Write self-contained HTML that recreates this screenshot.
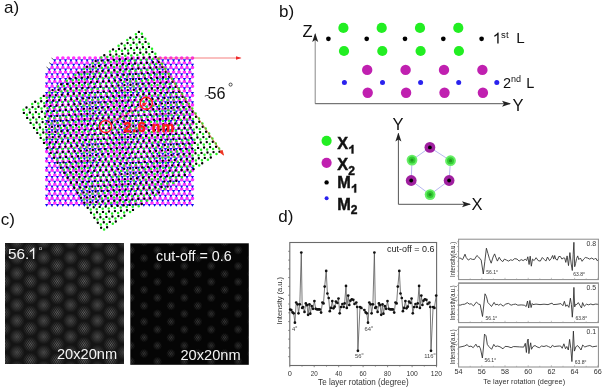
<!DOCTYPE html>
<html><head><meta charset="utf-8"><style>
html,body{margin:0;padding:0;background:#fff;width:602px;height:388px;overflow:hidden}
svg{display:block;will-change:transform}
text{font-family:"Liberation Sans",sans-serif}
</style></head><body>
<svg width="602" height="388" viewBox="0 0 602 388">
<rect width="602" height="388" fill="#fff"/>
<defs>
<marker id="arR" markerWidth="6" markerHeight="6" refX="5" refY="3" orient="auto" markerUnits="userSpaceOnUse"><path d="M0,1.2 L6,3 L0,4.8z" fill="#f02828"/></marker>
<marker id="arO" markerWidth="6" markerHeight="6" refX="5" refY="3" orient="auto" markerUnits="userSpaceOnUse"><path d="M0,0.8 L6,3 L0,5.2z" fill="#ee3322"/></marker>
<marker id="arK" markerWidth="9" markerHeight="7" refX="8" refY="3.5" orient="auto" markerUnits="userSpaceOnUse"><path d="M0,0.5 L9,3.5 L0,6.5 L2,3.5z" fill="#222"/></marker>
<marker id="arS" markerWidth="5" markerHeight="5" refX="4" refY="2.5" orient="auto" markerUnits="userSpaceOnUse"><path d="M0,0.5 L5,2.5 L0,4.5z" fill="#ff2a2a"/></marker>
</defs><filter id="fb" x="0" y="0" width="300" height="260" filterUnits="userSpaceOnUse"><feGaussianBlur stdDeviation="0.4"/></filter><g filter="url(#fb)"><path d="M57.5 58.1h0M62.9 58.1h0M68.3 58.1h0M73.7 58.1h0M79.1 58.1h0M84.5 58.1h0M89.9 58.1h0M95.3 58.1h0M100.7 58.1h0M106.1 58.1h0M111.5 58.1h0M116.9 58.1h0M122.3 58.1h0M127.7 58.1h0M133.1 58.1h0M138.5 58.1h0M143.9 58.1h0M149.3 58.1h0M154.7 58.1h0M160.1 58.1h0M165.5 58.1h0M170.9 58.1h0M176.3 58.1h0M181.7 58.1h0M187.1 58.1h0M192.5 58.1h0M54.8 62.8h0M60.2 62.8h0M65.6 62.8h0M71.0 62.8h0M76.4 62.8h0M81.8 62.8h0M87.2 62.8h0M92.6 62.8h0M98.0 62.8h0M103.4 62.8h0M108.8 62.8h0M114.2 62.8h0M119.6 62.8h0M125.0 62.8h0M130.4 62.8h0M135.8 62.8h0M141.2 62.8h0M146.6 62.8h0M152.0 62.8h0M157.4 62.8h0M162.8 62.8h0M168.2 62.8h0M173.6 62.8h0M179.0 62.8h0M184.4 62.8h0M189.8 62.8h0M52.1 67.5h0M57.5 67.5h0M62.9 67.5h0M68.3 67.5h0M73.7 67.5h0M79.1 67.5h0M84.5 67.5h0M89.9 67.5h0M95.3 67.5h0M100.7 67.5h0M106.1 67.5h0M111.5 67.5h0M116.9 67.5h0M122.3 67.5h0M127.7 67.5h0M133.1 67.5h0M138.5 67.5h0M143.9 67.5h0M149.3 67.5h0M154.7 67.5h0M160.1 67.5h0M165.5 67.5h0M170.9 67.5h0M176.3 67.5h0M181.7 67.5h0M187.1 67.5h0M192.5 67.5h0M49.4 72.1h0M54.8 72.1h0M60.2 72.1h0M65.6 72.1h0M71.0 72.1h0M76.4 72.1h0M81.8 72.1h0M87.2 72.1h0M92.6 72.1h0M98.0 72.1h0M103.4 72.1h0M108.8 72.1h0M114.2 72.1h0M119.6 72.1h0M125.0 72.1h0M130.4 72.1h0M135.8 72.1h0M141.2 72.1h0M146.6 72.1h0M152.0 72.1h0M157.4 72.1h0M162.8 72.1h0M168.2 72.1h0M173.6 72.1h0M179.0 72.1h0M184.4 72.1h0M189.8 72.1h0M46.7 76.8h0M52.1 76.8h0M57.5 76.8h0M62.9 76.8h0M68.3 76.8h0M73.7 76.8h0M79.1 76.8h0M84.5 76.8h0M89.9 76.8h0M95.3 76.8h0M100.7 76.8h0M106.1 76.8h0M111.5 76.8h0M116.9 76.8h0M122.3 76.8h0M127.7 76.8h0M133.1 76.8h0M138.5 76.8h0M143.9 76.8h0M149.3 76.8h0M154.7 76.8h0M160.1 76.8h0M165.5 76.8h0M170.9 76.8h0M176.3 76.8h0M181.7 76.8h0M187.1 76.8h0M192.5 76.8h0M49.4 81.5h0M54.8 81.5h0M60.2 81.5h0M65.6 81.5h0M71.0 81.5h0M76.4 81.5h0M81.8 81.5h0M87.2 81.5h0M92.6 81.5h0M98.0 81.5h0M103.4 81.5h0M108.8 81.5h0M114.2 81.5h0M119.6 81.5h0M125.0 81.5h0M130.4 81.5h0M135.8 81.5h0M141.2 81.5h0M146.6 81.5h0M152.0 81.5h0M157.4 81.5h0M162.8 81.5h0M168.2 81.5h0M173.6 81.5h0M179.0 81.5h0M184.4 81.5h0M189.8 81.5h0M46.7 86.2h0M52.1 86.2h0M57.5 86.2h0M62.9 86.2h0M68.3 86.2h0M73.7 86.2h0M79.1 86.2h0M84.5 86.2h0M89.9 86.2h0M95.3 86.2h0M100.7 86.2h0M106.1 86.2h0M111.5 86.2h0M116.9 86.2h0M122.3 86.2h0M127.7 86.2h0M133.1 86.2h0M138.5 86.2h0M143.9 86.2h0M149.3 86.2h0M154.7 86.2h0M160.1 86.2h0M165.5 86.2h0M170.9 86.2h0M176.3 86.2h0M181.7 86.2h0M187.1 86.2h0M192.5 86.2h0M49.4 90.8h0M54.8 90.8h0M60.2 90.8h0M65.6 90.8h0M71.0 90.8h0M76.4 90.8h0M81.8 90.8h0M87.2 90.8h0M92.6 90.8h0M98.0 90.8h0M103.4 90.8h0M108.8 90.8h0M114.2 90.8h0M119.6 90.8h0M125.0 90.8h0M130.4 90.8h0M135.8 90.8h0M141.2 90.8h0M146.6 90.8h0M152.0 90.8h0M157.4 90.8h0M162.8 90.8h0M168.2 90.8h0M173.6 90.8h0M179.0 90.8h0M184.4 90.8h0M189.8 90.8h0M46.7 95.5h0M52.1 95.5h0M57.5 95.5h0M62.9 95.5h0M68.3 95.5h0M73.7 95.5h0M79.1 95.5h0M84.5 95.5h0M89.9 95.5h0M95.3 95.5h0M100.7 95.5h0M106.1 95.5h0M111.5 95.5h0M116.9 95.5h0M122.3 95.5h0M127.7 95.5h0M133.1 95.5h0M138.5 95.5h0M143.9 95.5h0M149.3 95.5h0M154.7 95.5h0M160.1 95.5h0M165.5 95.5h0M170.9 95.5h0M176.3 95.5h0M181.7 95.5h0M187.1 95.5h0M192.5 95.5h0M49.4 100.2h0M54.8 100.2h0M60.2 100.2h0M65.6 100.2h0M71.0 100.2h0M76.4 100.2h0M81.8 100.2h0M87.2 100.2h0M92.6 100.2h0M98.0 100.2h0M103.4 100.2h0M108.8 100.2h0M114.2 100.2h0M119.6 100.2h0M125.0 100.2h0M130.4 100.2h0M135.8 100.2h0M141.2 100.2h0M146.6 100.2h0M152.0 100.2h0M157.4 100.2h0M162.8 100.2h0M168.2 100.2h0M173.6 100.2h0M179.0 100.2h0M184.4 100.2h0M189.8 100.2h0M46.7 104.9h0M52.1 104.9h0M57.5 104.9h0M62.9 104.9h0M68.3 104.9h0M73.7 104.9h0M79.1 104.9h0M84.5 104.9h0M89.9 104.9h0M95.3 104.9h0M100.7 104.9h0M106.1 104.9h0M111.5 104.9h0M116.9 104.9h0M122.3 104.9h0M127.7 104.9h0M133.1 104.9h0M138.5 104.9h0M143.9 104.9h0M149.3 104.9h0M154.7 104.9h0M160.1 104.9h0M165.5 104.9h0M170.9 104.9h0M176.3 104.9h0M181.7 104.9h0M187.1 104.9h0M192.5 104.9h0M49.4 109.5h0M54.8 109.5h0M60.2 109.5h0M65.6 109.5h0M71.0 109.5h0M76.4 109.5h0M81.8 109.5h0M87.2 109.5h0M92.6 109.5h0M98.0 109.5h0M103.4 109.5h0M108.8 109.5h0M114.2 109.5h0M119.6 109.5h0M125.0 109.5h0M130.4 109.5h0M135.8 109.5h0M141.2 109.5h0M146.6 109.5h0M152.0 109.5h0M157.4 109.5h0M162.8 109.5h0M168.2 109.5h0M173.6 109.5h0M179.0 109.5h0M184.4 109.5h0M189.8 109.5h0M46.7 114.2h0M52.1 114.2h0M57.5 114.2h0M62.9 114.2h0M68.3 114.2h0M73.7 114.2h0M79.1 114.2h0M84.5 114.2h0M89.9 114.2h0M95.3 114.2h0M100.7 114.2h0M106.1 114.2h0M111.5 114.2h0M116.9 114.2h0M122.3 114.2h0M127.7 114.2h0M133.1 114.2h0M138.5 114.2h0M143.9 114.2h0M149.3 114.2h0M154.7 114.2h0M160.1 114.2h0M165.5 114.2h0M170.9 114.2h0M176.3 114.2h0M181.7 114.2h0M187.1 114.2h0M192.5 114.2h0M49.4 118.9h0M54.8 118.9h0M60.2 118.9h0M65.6 118.9h0M71.0 118.9h0M76.4 118.9h0M81.8 118.9h0M87.2 118.9h0M92.6 118.9h0M98.0 118.9h0M103.4 118.9h0M108.8 118.9h0M114.2 118.9h0M119.6 118.9h0M125.0 118.9h0M130.4 118.9h0M135.8 118.9h0M141.2 118.9h0M146.6 118.9h0M152.0 118.9h0M157.4 118.9h0M162.8 118.9h0M168.2 118.9h0M173.6 118.9h0M179.0 118.9h0M184.4 118.9h0M189.8 118.9h0M46.7 123.6h0M52.1 123.6h0M57.5 123.6h0M62.9 123.6h0M68.3 123.6h0M73.7 123.6h0M79.1 123.6h0M84.5 123.6h0M89.9 123.6h0M95.3 123.6h0M100.7 123.6h0M106.1 123.6h0M111.5 123.6h0M116.9 123.6h0M122.3 123.6h0M127.7 123.6h0M133.1 123.6h0M138.5 123.6h0M143.9 123.6h0M149.3 123.6h0M154.7 123.6h0M160.1 123.6h0M165.5 123.6h0M170.9 123.6h0M176.3 123.6h0M181.7 123.6h0M187.1 123.6h0M192.5 123.6h0M49.4 128.2h0M54.8 128.2h0M60.2 128.2h0M65.6 128.2h0M71.0 128.2h0M76.4 128.2h0M81.8 128.2h0M87.2 128.2h0M92.6 128.2h0M98.0 128.2h0M103.4 128.2h0M108.8 128.2h0M114.2 128.2h0M119.6 128.2h0M125.0 128.2h0M130.4 128.2h0M135.8 128.2h0M141.2 128.2h0M146.6 128.2h0M152.0 128.2h0M157.4 128.2h0M162.8 128.2h0M168.2 128.2h0M173.6 128.2h0M179.0 128.2h0M184.4 128.2h0M189.8 128.2h0M46.7 132.9h0M52.1 132.9h0M57.5 132.9h0M62.9 132.9h0M68.3 132.9h0M73.7 132.9h0M79.1 132.9h0M84.5 132.9h0M89.9 132.9h0M95.3 132.9h0M100.7 132.9h0M106.1 132.9h0M111.5 132.9h0M116.9 132.9h0M122.3 132.9h0M127.7 132.9h0M133.1 132.9h0M138.5 132.9h0M143.9 132.9h0M149.3 132.9h0M154.7 132.9h0M160.1 132.9h0M165.5 132.9h0M170.9 132.9h0M176.3 132.9h0M181.7 132.9h0M187.1 132.9h0M192.5 132.9h0M49.4 137.6h0M54.8 137.6h0M60.2 137.6h0M65.6 137.6h0M71.0 137.6h0M76.4 137.6h0M81.8 137.6h0M87.2 137.6h0M92.6 137.6h0M98.0 137.6h0M103.4 137.6h0M108.8 137.6h0M114.2 137.6h0M119.6 137.6h0M125.0 137.6h0M130.4 137.6h0M135.8 137.6h0M141.2 137.6h0M146.6 137.6h0M152.0 137.6h0M157.4 137.6h0M162.8 137.6h0M168.2 137.6h0M173.6 137.6h0M179.0 137.6h0M184.4 137.6h0M189.8 137.6h0M46.7 142.3h0M52.1 142.3h0M57.5 142.3h0M62.9 142.3h0M68.3 142.3h0M73.7 142.3h0M79.1 142.3h0M84.5 142.3h0M89.9 142.3h0M95.3 142.3h0M100.7 142.3h0M106.1 142.3h0M111.5 142.3h0M116.9 142.3h0M122.3 142.3h0M127.7 142.3h0M133.1 142.3h0M138.5 142.3h0M143.9 142.3h0M149.3 142.3h0M154.7 142.3h0M160.1 142.3h0M165.5 142.3h0M170.9 142.3h0M176.3 142.3h0M181.7 142.3h0M187.1 142.3h0M192.5 142.3h0M49.4 147.0h0M54.8 147.0h0M60.2 147.0h0M65.6 147.0h0M71.0 147.0h0M76.4 147.0h0M81.8 147.0h0M87.2 147.0h0M92.6 147.0h0M98.0 147.0h0M103.4 147.0h0M108.8 147.0h0M114.2 147.0h0M119.6 147.0h0M125.0 147.0h0M130.4 147.0h0M135.8 147.0h0M141.2 147.0h0M146.6 147.0h0M152.0 147.0h0M157.4 147.0h0M162.8 147.0h0M168.2 147.0h0M173.6 147.0h0M179.0 147.0h0M184.4 147.0h0M189.8 147.0h0M46.7 151.6h0M52.1 151.6h0M57.5 151.6h0M62.9 151.6h0M68.3 151.6h0M73.7 151.6h0M79.1 151.6h0M84.5 151.6h0M89.9 151.6h0M95.3 151.6h0M100.7 151.6h0M106.1 151.6h0M111.5 151.6h0M116.9 151.6h0M122.3 151.6h0M127.7 151.6h0M133.1 151.6h0M138.5 151.6h0M143.9 151.6h0M149.3 151.6h0M154.7 151.6h0M160.1 151.6h0M165.5 151.6h0M170.9 151.6h0M176.3 151.6h0M181.7 151.6h0M187.1 151.6h0M192.5 151.6h0M49.4 156.3h0M54.8 156.3h0M60.2 156.3h0M65.6 156.3h0M71.0 156.3h0M76.4 156.3h0M81.8 156.3h0M87.2 156.3h0M92.6 156.3h0M98.0 156.3h0M103.4 156.3h0M108.8 156.3h0M114.2 156.3h0M119.6 156.3h0M125.0 156.3h0M130.4 156.3h0M135.8 156.3h0M141.2 156.3h0M146.6 156.3h0M152.0 156.3h0M157.4 156.3h0M162.8 156.3h0M168.2 156.3h0M173.6 156.3h0M179.0 156.3h0M184.4 156.3h0M189.8 156.3h0M46.7 161.0h0M52.1 161.0h0M57.5 161.0h0M62.9 161.0h0M68.3 161.0h0M73.7 161.0h0M79.1 161.0h0M84.5 161.0h0M89.9 161.0h0M95.3 161.0h0M100.7 161.0h0M106.1 161.0h0M111.5 161.0h0M116.9 161.0h0M122.3 161.0h0M127.7 161.0h0M133.1 161.0h0M138.5 161.0h0M143.9 161.0h0M149.3 161.0h0M154.7 161.0h0M160.1 161.0h0M165.5 161.0h0M170.9 161.0h0M176.3 161.0h0M181.7 161.0h0M187.1 161.0h0M192.5 161.0h0M49.4 165.7h0M54.8 165.7h0M60.2 165.7h0M65.6 165.7h0M71.0 165.7h0M76.4 165.7h0M81.8 165.7h0M87.2 165.7h0M92.6 165.7h0M98.0 165.7h0M103.4 165.7h0M108.8 165.7h0M114.2 165.7h0M119.6 165.7h0M125.0 165.7h0M130.4 165.7h0M135.8 165.7h0M141.2 165.7h0M146.6 165.7h0M152.0 165.7h0M157.4 165.7h0M162.8 165.7h0M168.2 165.7h0M173.6 165.7h0M179.0 165.7h0M184.4 165.7h0M189.8 165.7h0M46.7 170.3h0M52.1 170.3h0M57.5 170.3h0M62.9 170.3h0M68.3 170.3h0M73.7 170.3h0M79.1 170.3h0M84.5 170.3h0M89.9 170.3h0M95.3 170.3h0M100.7 170.3h0M106.1 170.3h0M111.5 170.3h0M116.9 170.3h0M122.3 170.3h0M127.7 170.3h0M133.1 170.3h0M138.5 170.3h0M143.9 170.3h0M149.3 170.3h0M154.7 170.3h0M160.1 170.3h0M165.5 170.3h0M170.9 170.3h0M176.3 170.3h0M181.7 170.3h0M187.1 170.3h0M192.5 170.3h0M49.4 175.0h0M54.8 175.0h0M60.2 175.0h0M65.6 175.0h0M71.0 175.0h0M76.4 175.0h0M81.8 175.0h0M87.2 175.0h0M92.6 175.0h0M98.0 175.0h0M103.4 175.0h0M108.8 175.0h0M114.2 175.0h0M119.6 175.0h0M125.0 175.0h0M130.4 175.0h0M135.8 175.0h0M141.2 175.0h0M146.6 175.0h0M152.0 175.0h0M157.4 175.0h0M162.8 175.0h0M168.2 175.0h0M173.6 175.0h0M179.0 175.0h0M184.4 175.0h0M189.8 175.0h0M46.7 179.7h0M52.1 179.7h0M57.5 179.7h0M62.9 179.7h0M68.3 179.7h0M73.7 179.7h0M79.1 179.7h0M84.5 179.7h0M89.9 179.7h0M95.3 179.7h0M100.7 179.7h0M106.1 179.7h0M111.5 179.7h0M116.9 179.7h0M122.3 179.7h0M127.7 179.7h0M133.1 179.7h0M138.5 179.7h0M143.9 179.7h0M149.3 179.7h0M154.7 179.7h0M160.1 179.7h0M165.5 179.7h0M170.9 179.7h0M176.3 179.7h0M181.7 179.7h0M187.1 179.7h0M192.5 179.7h0M49.4 184.4h0M54.8 184.4h0M60.2 184.4h0M65.6 184.4h0M71.0 184.4h0M76.4 184.4h0M81.8 184.4h0M87.2 184.4h0M92.6 184.4h0M98.0 184.4h0M103.4 184.4h0M108.8 184.4h0M114.2 184.4h0M119.6 184.4h0M125.0 184.4h0M130.4 184.4h0M135.8 184.4h0M141.2 184.4h0M146.6 184.4h0M152.0 184.4h0M157.4 184.4h0M162.8 184.4h0M168.2 184.4h0M173.6 184.4h0M179.0 184.4h0M184.4 184.4h0M189.8 184.4h0M46.7 189.0h0M52.1 189.0h0M57.5 189.0h0M62.9 189.0h0M68.3 189.0h0M73.7 189.0h0M79.1 189.0h0M84.5 189.0h0M89.9 189.0h0M95.3 189.0h0M100.7 189.0h0M106.1 189.0h0M111.5 189.0h0M116.9 189.0h0M122.3 189.0h0M127.7 189.0h0M133.1 189.0h0M138.5 189.0h0M143.9 189.0h0M149.3 189.0h0M154.7 189.0h0M160.1 189.0h0M165.5 189.0h0M170.9 189.0h0M176.3 189.0h0M181.7 189.0h0M187.1 189.0h0M192.5 189.0h0M49.4 193.7h0M54.8 193.7h0M60.2 193.7h0M65.6 193.7h0M71.0 193.7h0M76.4 193.7h0M81.8 193.7h0M87.2 193.7h0M92.6 193.7h0M98.0 193.7h0M103.4 193.7h0M108.8 193.7h0M114.2 193.7h0M119.6 193.7h0M125.0 193.7h0M130.4 193.7h0M135.8 193.7h0M141.2 193.7h0M146.6 193.7h0M152.0 193.7h0M157.4 193.7h0M162.8 193.7h0M168.2 193.7h0M173.6 193.7h0M179.0 193.7h0M184.4 193.7h0M189.8 193.7h0M46.7 198.4h0M52.1 198.4h0M57.5 198.4h0M62.9 198.4h0M68.3 198.4h0M73.7 198.4h0M79.1 198.4h0M84.5 198.4h0M89.9 198.4h0M95.3 198.4h0M100.7 198.4h0M106.1 198.4h0M111.5 198.4h0M116.9 198.4h0M122.3 198.4h0M127.7 198.4h0M133.1 198.4h0M138.5 198.4h0M143.9 198.4h0M149.3 198.4h0M154.7 198.4h0M160.1 198.4h0M165.5 198.4h0M170.9 198.4h0M176.3 198.4h0M181.7 198.4h0M187.1 198.4h0M192.5 198.4h0M49.4 203.1h0M54.8 203.1h0M60.2 203.1h0M65.6 203.1h0M71.0 203.1h0M76.4 203.1h0M81.8 203.1h0M87.2 203.1h0M92.6 203.1h0M98.0 203.1h0M103.4 203.1h0M108.8 203.1h0M114.2 203.1h0M119.6 203.1h0M125.0 203.1h0M130.4 203.1h0M135.8 203.1h0M141.2 203.1h0M146.6 203.1h0M152.0 203.1h0M157.4 203.1h0M162.8 203.1h0M168.2 203.1h0M173.6 203.1h0M179.0 203.1h0M184.4 203.1h0M189.8 203.1h0" stroke="#ff30ff" stroke-width="3.60" stroke-linecap="round" fill="none"/><path d="M53.1 59.2h3.30l-1.65 2.75zM58.5 59.2h3.30l-1.65 2.75zM63.9 59.2h3.30l-1.65 2.75zM69.3 59.2h3.30l-1.65 2.75zM74.7 59.2h3.30l-1.65 2.75zM80.1 59.2h3.30l-1.65 2.75zM85.5 59.2h3.30l-1.65 2.75zM90.9 59.2h3.30l-1.65 2.75zM96.3 59.2h3.30l-1.65 2.75zM101.7 59.2h3.30l-1.65 2.75zM107.1 59.2h3.30l-1.65 2.75zM112.5 59.2h3.30l-1.65 2.75zM117.9 59.2h3.30l-1.65 2.75zM123.3 59.2h3.30l-1.65 2.75zM128.7 59.2h3.30l-1.65 2.75zM134.2 59.2h3.30l-1.65 2.75zM139.5 59.2h3.30l-1.65 2.75zM144.9 59.2h3.30l-1.65 2.75zM150.3 59.2h3.30l-1.65 2.75zM155.8 59.2h3.30l-1.65 2.75zM161.1 59.2h3.30l-1.65 2.75zM166.5 59.2h3.30l-1.65 2.75zM171.9 59.2h3.30l-1.65 2.75zM177.3 59.2h3.30l-1.65 2.75zM182.8 59.2h3.30l-1.65 2.75zM188.2 59.2h3.30l-1.65 2.75zM50.4 63.8h3.30l-1.65 2.75zM55.8 63.8h3.30l-1.65 2.75zM61.2 63.8h3.30l-1.65 2.75zM66.6 63.8h3.30l-1.65 2.75zM72.0 63.8h3.30l-1.65 2.75zM77.4 63.8h3.30l-1.65 2.75zM82.8 63.8h3.30l-1.65 2.75zM88.2 63.8h3.30l-1.65 2.75zM93.6 63.8h3.30l-1.65 2.75zM99.0 63.8h3.30l-1.65 2.75zM104.4 63.8h3.30l-1.65 2.75zM109.8 63.8h3.30l-1.65 2.75zM115.2 63.8h3.30l-1.65 2.75zM120.6 63.8h3.30l-1.65 2.75zM126.0 63.8h3.30l-1.65 2.75zM131.4 63.8h3.30l-1.65 2.75zM136.8 63.8h3.30l-1.65 2.75zM142.2 63.8h3.30l-1.65 2.75zM147.7 63.8h3.30l-1.65 2.75zM153.0 63.8h3.30l-1.65 2.75zM158.4 63.8h3.30l-1.65 2.75zM163.8 63.8h3.30l-1.65 2.75zM169.2 63.8h3.30l-1.65 2.75zM174.7 63.8h3.30l-1.65 2.75zM180.0 63.8h3.30l-1.65 2.75zM185.4 63.8h3.30l-1.65 2.75zM190.8 63.8h3.30l-1.65 2.75zM47.7 68.5h3.30l-1.65 2.75zM53.1 68.5h3.30l-1.65 2.75zM58.5 68.5h3.30l-1.65 2.75zM64.0 68.5h3.30l-1.65 2.75zM69.3 68.5h3.30l-1.65 2.75zM74.8 68.5h3.30l-1.65 2.75zM80.1 68.5h3.30l-1.65 2.75zM85.5 68.5h3.30l-1.65 2.75zM91.0 68.5h3.30l-1.65 2.75zM96.3 68.5h3.30l-1.65 2.75zM101.8 68.5h3.30l-1.65 2.75zM107.1 68.5h3.30l-1.65 2.75zM112.5 68.5h3.30l-1.65 2.75zM118.0 68.5h3.30l-1.65 2.75zM123.3 68.5h3.30l-1.65 2.75zM128.8 68.5h3.30l-1.65 2.75zM134.1 68.5h3.30l-1.65 2.75zM139.5 68.5h3.30l-1.65 2.75zM144.9 68.5h3.30l-1.65 2.75zM150.3 68.5h3.30l-1.65 2.75zM155.8 68.5h3.30l-1.65 2.75zM161.1 68.5h3.30l-1.65 2.75zM166.5 68.5h3.30l-1.65 2.75zM171.9 68.5h3.30l-1.65 2.75zM177.3 68.5h3.30l-1.65 2.75zM182.8 68.5h3.30l-1.65 2.75zM188.2 68.5h3.30l-1.65 2.75zM45.0 73.2h3.30l-1.65 2.75zM50.4 73.2h3.30l-1.65 2.75zM55.8 73.2h3.30l-1.65 2.75zM61.2 73.2h3.30l-1.65 2.75zM66.6 73.2h3.30l-1.65 2.75zM72.0 73.2h3.30l-1.65 2.75zM77.5 73.2h3.30l-1.65 2.75zM82.8 73.2h3.30l-1.65 2.75zM88.2 73.2h3.30l-1.65 2.75zM93.6 73.2h3.30l-1.65 2.75zM99.0 73.2h3.30l-1.65 2.75zM104.5 73.2h3.30l-1.65 2.75zM109.8 73.2h3.30l-1.65 2.75zM115.2 73.2h3.30l-1.65 2.75zM120.6 73.2h3.30l-1.65 2.75zM126.0 73.2h3.30l-1.65 2.75zM131.4 73.2h3.30l-1.65 2.75zM136.8 73.2h3.30l-1.65 2.75zM142.2 73.2h3.30l-1.65 2.75zM147.7 73.2h3.30l-1.65 2.75zM153.0 73.2h3.30l-1.65 2.75zM158.4 73.2h3.30l-1.65 2.75zM163.8 73.2h3.30l-1.65 2.75zM169.2 73.2h3.30l-1.65 2.75zM174.7 73.2h3.30l-1.65 2.75zM180.0 73.2h3.30l-1.65 2.75zM185.4 73.2h3.30l-1.65 2.75zM190.8 73.2h3.30l-1.65 2.75zM47.7 77.9h3.30l-1.65 2.75zM53.1 77.9h3.30l-1.65 2.75zM58.5 77.9h3.30l-1.65 2.75zM64.0 77.9h3.30l-1.65 2.75zM69.3 77.9h3.30l-1.65 2.75zM74.7 77.9h3.30l-1.65 2.75zM80.1 77.9h3.30l-1.65 2.75zM85.5 77.9h3.30l-1.65 2.75zM90.9 77.9h3.30l-1.65 2.75zM96.3 77.9h3.30l-1.65 2.75zM101.7 77.9h3.30l-1.65 2.75zM107.1 77.9h3.30l-1.65 2.75zM112.5 77.9h3.30l-1.65 2.75zM117.9 77.9h3.30l-1.65 2.75zM123.3 77.9h3.30l-1.65 2.75zM128.7 77.9h3.30l-1.65 2.75zM134.2 77.9h3.30l-1.65 2.75zM139.5 77.9h3.30l-1.65 2.75zM144.9 77.9h3.30l-1.65 2.75zM150.3 77.9h3.30l-1.65 2.75zM155.8 77.9h3.30l-1.65 2.75zM161.1 77.9h3.30l-1.65 2.75zM166.5 77.9h3.30l-1.65 2.75zM171.9 77.9h3.30l-1.65 2.75zM177.3 77.9h3.30l-1.65 2.75zM182.8 77.9h3.30l-1.65 2.75zM188.2 77.9h3.30l-1.65 2.75zM45.0 82.5h3.30l-1.65 2.75zM50.4 82.5h3.30l-1.65 2.75zM55.8 82.5h3.30l-1.65 2.75zM61.2 82.5h3.30l-1.65 2.75zM66.6 82.5h3.30l-1.65 2.75zM72.0 82.5h3.30l-1.65 2.75zM77.4 82.5h3.30l-1.65 2.75zM82.8 82.5h3.30l-1.65 2.75zM88.2 82.5h3.30l-1.65 2.75zM93.6 82.5h3.30l-1.65 2.75zM99.0 82.5h3.30l-1.65 2.75zM104.4 82.5h3.30l-1.65 2.75zM109.8 82.5h3.30l-1.65 2.75zM115.2 82.5h3.30l-1.65 2.75zM120.6 82.5h3.30l-1.65 2.75zM126.0 82.5h3.30l-1.65 2.75zM131.4 82.5h3.30l-1.65 2.75zM136.8 82.5h3.30l-1.65 2.75zM142.2 82.5h3.30l-1.65 2.75zM147.7 82.5h3.30l-1.65 2.75zM153.0 82.5h3.30l-1.65 2.75zM158.4 82.5h3.30l-1.65 2.75zM163.8 82.5h3.30l-1.65 2.75zM169.2 82.5h3.30l-1.65 2.75zM174.6 82.5h3.30l-1.65 2.75zM180.0 82.5h3.30l-1.65 2.75zM185.4 82.5h3.30l-1.65 2.75zM190.8 82.5h3.30l-1.65 2.75zM47.7 87.2h3.30l-1.65 2.75zM53.1 87.2h3.30l-1.65 2.75zM58.5 87.2h3.30l-1.65 2.75zM63.9 87.2h3.30l-1.65 2.75zM69.3 87.2h3.30l-1.65 2.75zM74.8 87.2h3.30l-1.65 2.75zM80.1 87.2h3.30l-1.65 2.75zM85.5 87.2h3.30l-1.65 2.75zM90.9 87.2h3.30l-1.65 2.75zM96.3 87.2h3.30l-1.65 2.75zM101.8 87.2h3.30l-1.65 2.75zM107.1 87.2h3.30l-1.65 2.75zM112.5 87.2h3.30l-1.65 2.75zM117.9 87.2h3.30l-1.65 2.75zM123.3 87.2h3.30l-1.65 2.75zM128.8 87.2h3.30l-1.65 2.75zM134.2 87.2h3.30l-1.65 2.75zM139.5 87.2h3.30l-1.65 2.75zM144.9 87.2h3.30l-1.65 2.75zM150.3 87.2h3.30l-1.65 2.75zM155.8 87.2h3.30l-1.65 2.75zM161.2 87.2h3.30l-1.65 2.75zM166.5 87.2h3.30l-1.65 2.75zM171.9 87.2h3.30l-1.65 2.75zM177.3 87.2h3.30l-1.65 2.75zM182.8 87.2h3.30l-1.65 2.75zM188.2 87.2h3.30l-1.65 2.75zM45.0 91.9h3.30l-1.65 2.75zM50.4 91.9h3.30l-1.65 2.75zM55.8 91.9h3.30l-1.65 2.75zM61.2 91.9h3.30l-1.65 2.75zM66.6 91.9h3.30l-1.65 2.75zM72.0 91.9h3.30l-1.65 2.75zM77.5 91.9h3.30l-1.65 2.75zM82.8 91.9h3.30l-1.65 2.75zM88.2 91.9h3.30l-1.65 2.75zM93.6 91.9h3.30l-1.65 2.75zM99.0 91.9h3.30l-1.65 2.75zM104.5 91.9h3.30l-1.65 2.75zM109.8 91.9h3.30l-1.65 2.75zM115.2 91.9h3.30l-1.65 2.75zM120.6 91.9h3.30l-1.65 2.75zM126.0 91.9h3.30l-1.65 2.75zM131.5 91.9h3.30l-1.65 2.75zM136.8 91.9h3.30l-1.65 2.75zM142.2 91.9h3.30l-1.65 2.75zM147.7 91.9h3.30l-1.65 2.75zM153.0 91.9h3.30l-1.65 2.75zM158.5 91.9h3.30l-1.65 2.75zM163.8 91.9h3.30l-1.65 2.75zM169.2 91.9h3.30l-1.65 2.75zM174.7 91.9h3.30l-1.65 2.75zM180.0 91.9h3.30l-1.65 2.75zM185.4 91.9h3.30l-1.65 2.75zM190.8 91.9h3.30l-1.65 2.75zM47.7 96.6h3.30l-1.65 2.75zM53.1 96.6h3.30l-1.65 2.75zM58.5 96.6h3.30l-1.65 2.75zM63.9 96.6h3.30l-1.65 2.75zM69.3 96.6h3.30l-1.65 2.75zM74.7 96.6h3.30l-1.65 2.75zM80.1 96.6h3.30l-1.65 2.75zM85.5 96.6h3.30l-1.65 2.75zM91.0 96.6h3.30l-1.65 2.75zM96.3 96.6h3.30l-1.65 2.75zM101.7 96.6h3.30l-1.65 2.75zM107.1 96.6h3.30l-1.65 2.75zM112.5 96.6h3.30l-1.65 2.75zM118.0 96.6h3.30l-1.65 2.75zM123.3 96.6h3.30l-1.65 2.75zM128.7 96.6h3.30l-1.65 2.75zM134.2 96.6h3.30l-1.65 2.75zM139.5 96.6h3.30l-1.65 2.75zM144.9 96.6h3.30l-1.65 2.75zM150.3 96.6h3.30l-1.65 2.75zM155.8 96.6h3.30l-1.65 2.75zM161.2 96.6h3.30l-1.65 2.75zM166.5 96.6h3.30l-1.65 2.75zM171.9 96.6h3.30l-1.65 2.75zM177.3 96.6h3.30l-1.65 2.75zM182.8 96.6h3.30l-1.65 2.75zM188.2 96.6h3.30l-1.65 2.75zM45.0 101.2h3.30l-1.65 2.75zM50.4 101.2h3.30l-1.65 2.75zM55.9 101.2h3.30l-1.65 2.75zM61.2 101.2h3.30l-1.65 2.75zM66.6 101.2h3.30l-1.65 2.75zM72.0 101.2h3.30l-1.65 2.75zM77.4 101.2h3.30l-1.65 2.75zM82.8 101.2h3.30l-1.65 2.75zM88.2 101.2h3.30l-1.65 2.75zM93.6 101.2h3.30l-1.65 2.75zM99.0 101.2h3.30l-1.65 2.75zM104.4 101.2h3.30l-1.65 2.75zM109.8 101.2h3.30l-1.65 2.75zM115.2 101.2h3.30l-1.65 2.75zM120.6 101.2h3.30l-1.65 2.75zM126.0 101.2h3.30l-1.65 2.75zM131.4 101.2h3.30l-1.65 2.75zM136.8 101.2h3.30l-1.65 2.75zM142.2 101.2h3.30l-1.65 2.75zM147.7 101.2h3.30l-1.65 2.75zM153.0 101.2h3.30l-1.65 2.75zM158.4 101.2h3.30l-1.65 2.75zM163.8 101.2h3.30l-1.65 2.75zM169.2 101.2h3.30l-1.65 2.75zM174.7 101.2h3.30l-1.65 2.75zM180.0 101.2h3.30l-1.65 2.75zM185.4 101.2h3.30l-1.65 2.75zM190.8 101.2h3.30l-1.65 2.75zM47.7 105.9h3.30l-1.65 2.75zM53.1 105.9h3.30l-1.65 2.75zM58.5 105.9h3.30l-1.65 2.75zM63.9 105.9h3.30l-1.65 2.75zM69.3 105.9h3.30l-1.65 2.75zM74.7 105.9h3.30l-1.65 2.75zM80.1 105.9h3.30l-1.65 2.75zM85.5 105.9h3.30l-1.65 2.75zM90.9 105.9h3.30l-1.65 2.75zM96.3 105.9h3.30l-1.65 2.75zM101.7 105.9h3.30l-1.65 2.75zM107.1 105.9h3.30l-1.65 2.75zM112.5 105.9h3.30l-1.65 2.75zM117.9 105.9h3.30l-1.65 2.75zM123.3 105.9h3.30l-1.65 2.75zM128.7 105.9h3.30l-1.65 2.75zM134.2 105.9h3.30l-1.65 2.75zM139.5 105.9h3.30l-1.65 2.75zM144.9 105.9h3.30l-1.65 2.75zM150.3 105.9h3.30l-1.65 2.75zM155.7 105.9h3.30l-1.65 2.75zM161.1 105.9h3.30l-1.65 2.75zM166.5 105.9h3.30l-1.65 2.75zM171.9 105.9h3.30l-1.65 2.75zM177.3 105.9h3.30l-1.65 2.75zM182.8 105.9h3.30l-1.65 2.75zM188.1 105.9h3.30l-1.65 2.75zM45.0 110.6h3.30l-1.65 2.75zM50.4 110.6h3.30l-1.65 2.75zM55.9 110.6h3.30l-1.65 2.75zM61.2 110.6h3.30l-1.65 2.75zM66.6 110.6h3.30l-1.65 2.75zM72.0 110.6h3.30l-1.65 2.75zM77.4 110.6h3.30l-1.65 2.75zM82.8 110.6h3.30l-1.65 2.75zM88.2 110.6h3.30l-1.65 2.75zM93.6 110.6h3.30l-1.65 2.75zM99.0 110.6h3.30l-1.65 2.75zM104.4 110.6h3.30l-1.65 2.75zM109.8 110.6h3.30l-1.65 2.75zM115.2 110.6h3.30l-1.65 2.75zM120.6 110.6h3.30l-1.65 2.75zM126.0 110.6h3.30l-1.65 2.75zM131.4 110.6h3.30l-1.65 2.75zM136.8 110.6h3.30l-1.65 2.75zM142.2 110.6h3.30l-1.65 2.75zM147.7 110.6h3.30l-1.65 2.75zM153.0 110.6h3.30l-1.65 2.75zM158.4 110.6h3.30l-1.65 2.75zM163.8 110.6h3.30l-1.65 2.75zM169.2 110.6h3.30l-1.65 2.75zM174.7 110.6h3.30l-1.65 2.75zM180.0 110.6h3.30l-1.65 2.75zM185.4 110.6h3.30l-1.65 2.75zM190.8 110.6h3.30l-1.65 2.75zM47.7 115.3h3.30l-1.65 2.75zM53.1 115.3h3.30l-1.65 2.75zM58.5 115.3h3.30l-1.65 2.75zM64.0 115.3h3.30l-1.65 2.75zM69.3 115.3h3.30l-1.65 2.75zM74.7 115.3h3.30l-1.65 2.75zM80.1 115.3h3.30l-1.65 2.75zM85.5 115.3h3.30l-1.65 2.75zM91.0 115.3h3.30l-1.65 2.75zM96.3 115.3h3.30l-1.65 2.75zM101.8 115.3h3.30l-1.65 2.75zM107.1 115.3h3.30l-1.65 2.75zM112.5 115.3h3.30l-1.65 2.75zM118.0 115.3h3.30l-1.65 2.75zM123.3 115.3h3.30l-1.65 2.75zM128.8 115.3h3.30l-1.65 2.75zM134.2 115.3h3.30l-1.65 2.75zM139.5 115.3h3.30l-1.65 2.75zM145.0 115.3h3.30l-1.65 2.75zM150.3 115.3h3.30l-1.65 2.75zM155.8 115.3h3.30l-1.65 2.75zM161.1 115.3h3.30l-1.65 2.75zM166.5 115.3h3.30l-1.65 2.75zM171.9 115.3h3.30l-1.65 2.75zM177.3 115.3h3.30l-1.65 2.75zM182.8 115.3h3.30l-1.65 2.75zM188.2 115.3h3.30l-1.65 2.75zM45.0 119.9h3.30l-1.65 2.75zM50.4 119.9h3.30l-1.65 2.75zM55.8 119.9h3.30l-1.65 2.75zM61.2 119.9h3.30l-1.65 2.75zM66.6 119.9h3.30l-1.65 2.75zM72.0 119.9h3.30l-1.65 2.75zM77.4 119.9h3.30l-1.65 2.75zM82.8 119.9h3.30l-1.65 2.75zM88.2 119.9h3.30l-1.65 2.75zM93.6 119.9h3.30l-1.65 2.75zM99.0 119.9h3.30l-1.65 2.75zM104.5 119.9h3.30l-1.65 2.75zM109.8 119.9h3.30l-1.65 2.75zM115.2 119.9h3.30l-1.65 2.75zM120.6 119.9h3.30l-1.65 2.75zM126.0 119.9h3.30l-1.65 2.75zM131.4 119.9h3.30l-1.65 2.75zM136.8 119.9h3.30l-1.65 2.75zM142.2 119.9h3.30l-1.65 2.75zM147.7 119.9h3.30l-1.65 2.75zM153.0 119.9h3.30l-1.65 2.75zM158.4 119.9h3.30l-1.65 2.75zM163.8 119.9h3.30l-1.65 2.75zM169.2 119.9h3.30l-1.65 2.75zM174.7 119.9h3.30l-1.65 2.75zM180.0 119.9h3.30l-1.65 2.75zM185.4 119.9h3.30l-1.65 2.75zM190.8 119.9h3.30l-1.65 2.75zM47.7 124.6h3.30l-1.65 2.75zM53.1 124.6h3.30l-1.65 2.75zM58.5 124.6h3.30l-1.65 2.75zM64.0 124.6h3.30l-1.65 2.75zM69.4 124.6h3.30l-1.65 2.75zM74.7 124.6h3.30l-1.65 2.75zM80.1 124.6h3.30l-1.65 2.75zM85.5 124.6h3.30l-1.65 2.75zM91.0 124.6h3.30l-1.65 2.75zM96.4 124.6h3.30l-1.65 2.75zM101.7 124.6h3.30l-1.65 2.75zM107.1 124.6h3.30l-1.65 2.75zM112.5 124.6h3.30l-1.65 2.75zM118.0 124.6h3.30l-1.65 2.75zM123.4 124.6h3.30l-1.65 2.75zM128.7 124.6h3.30l-1.65 2.75zM134.2 124.6h3.30l-1.65 2.75zM139.5 124.6h3.30l-1.65 2.75zM144.9 124.6h3.30l-1.65 2.75zM150.3 124.6h3.30l-1.65 2.75zM155.8 124.6h3.30l-1.65 2.75zM161.2 124.6h3.30l-1.65 2.75zM166.5 124.6h3.30l-1.65 2.75zM171.9 124.6h3.30l-1.65 2.75zM177.3 124.6h3.30l-1.65 2.75zM182.8 124.6h3.30l-1.65 2.75zM188.2 124.6h3.30l-1.65 2.75zM45.0 129.3h3.30l-1.65 2.75zM50.4 129.3h3.30l-1.65 2.75zM55.8 129.3h3.30l-1.65 2.75zM61.2 129.3h3.30l-1.65 2.75zM66.6 129.3h3.30l-1.65 2.75zM72.0 129.3h3.30l-1.65 2.75zM77.4 129.3h3.30l-1.65 2.75zM82.8 129.3h3.30l-1.65 2.75zM88.2 129.3h3.30l-1.65 2.75zM93.6 129.3h3.30l-1.65 2.75zM99.0 129.3h3.30l-1.65 2.75zM104.4 129.3h3.30l-1.65 2.75zM109.8 129.3h3.30l-1.65 2.75zM115.2 129.3h3.30l-1.65 2.75zM120.6 129.3h3.30l-1.65 2.75zM126.0 129.3h3.30l-1.65 2.75zM131.4 129.3h3.30l-1.65 2.75zM136.8 129.3h3.30l-1.65 2.75zM142.2 129.3h3.30l-1.65 2.75zM147.7 129.3h3.30l-1.65 2.75zM153.0 129.3h3.30l-1.65 2.75zM158.4 129.3h3.30l-1.65 2.75zM163.8 129.3h3.30l-1.65 2.75zM169.2 129.3h3.30l-1.65 2.75zM174.6 129.3h3.30l-1.65 2.75zM180.0 129.3h3.30l-1.65 2.75zM185.4 129.3h3.30l-1.65 2.75zM190.8 129.3h3.30l-1.65 2.75zM47.7 134.0h3.30l-1.65 2.75zM53.1 134.0h3.30l-1.65 2.75zM58.5 134.0h3.30l-1.65 2.75zM63.9 134.0h3.30l-1.65 2.75zM69.3 134.0h3.30l-1.65 2.75zM74.8 134.0h3.30l-1.65 2.75zM80.1 134.0h3.30l-1.65 2.75zM85.5 134.0h3.30l-1.65 2.75zM90.9 134.0h3.30l-1.65 2.75zM96.3 134.0h3.30l-1.65 2.75zM101.8 134.0h3.30l-1.65 2.75zM107.1 134.0h3.30l-1.65 2.75zM112.5 134.0h3.30l-1.65 2.75zM117.9 134.0h3.30l-1.65 2.75zM123.3 134.0h3.30l-1.65 2.75zM128.8 134.0h3.30l-1.65 2.75zM134.2 134.0h3.30l-1.65 2.75zM139.5 134.0h3.30l-1.65 2.75zM144.9 134.0h3.30l-1.65 2.75zM150.3 134.0h3.30l-1.65 2.75zM155.8 134.0h3.30l-1.65 2.75zM161.1 134.0h3.30l-1.65 2.75zM166.5 134.0h3.30l-1.65 2.75zM171.9 134.0h3.30l-1.65 2.75zM177.3 134.0h3.30l-1.65 2.75zM182.8 134.0h3.30l-1.65 2.75zM188.2 134.0h3.30l-1.65 2.75zM45.0 138.7h3.30l-1.65 2.75zM50.4 138.7h3.30l-1.65 2.75zM55.8 138.7h3.30l-1.65 2.75zM61.2 138.7h3.30l-1.65 2.75zM66.6 138.7h3.30l-1.65 2.75zM72.0 138.7h3.30l-1.65 2.75zM77.5 138.7h3.30l-1.65 2.75zM82.8 138.7h3.30l-1.65 2.75zM88.2 138.7h3.30l-1.65 2.75zM93.6 138.7h3.30l-1.65 2.75zM99.0 138.7h3.30l-1.65 2.75zM104.5 138.7h3.30l-1.65 2.75zM109.8 138.7h3.30l-1.65 2.75zM115.2 138.7h3.30l-1.65 2.75zM120.6 138.7h3.30l-1.65 2.75zM126.0 138.7h3.30l-1.65 2.75zM131.5 138.7h3.30l-1.65 2.75zM136.8 138.7h3.30l-1.65 2.75zM142.2 138.7h3.30l-1.65 2.75zM147.7 138.7h3.30l-1.65 2.75zM153.0 138.7h3.30l-1.65 2.75zM158.5 138.7h3.30l-1.65 2.75zM163.8 138.7h3.30l-1.65 2.75zM169.2 138.7h3.30l-1.65 2.75zM174.6 138.7h3.30l-1.65 2.75zM180.0 138.7h3.30l-1.65 2.75zM185.4 138.7h3.30l-1.65 2.75zM190.8 138.7h3.30l-1.65 2.75zM47.7 143.3h3.30l-1.65 2.75zM53.1 143.3h3.30l-1.65 2.75zM58.5 143.3h3.30l-1.65 2.75zM63.9 143.3h3.30l-1.65 2.75zM69.3 143.3h3.30l-1.65 2.75zM74.7 143.3h3.30l-1.65 2.75zM80.1 143.3h3.30l-1.65 2.75zM85.5 143.3h3.30l-1.65 2.75zM90.9 143.3h3.30l-1.65 2.75zM96.3 143.3h3.30l-1.65 2.75zM101.7 143.3h3.30l-1.65 2.75zM107.1 143.3h3.30l-1.65 2.75zM112.5 143.3h3.30l-1.65 2.75zM118.0 143.3h3.30l-1.65 2.75zM123.3 143.3h3.30l-1.65 2.75zM128.7 143.3h3.30l-1.65 2.75zM134.2 143.3h3.30l-1.65 2.75zM139.5 143.3h3.30l-1.65 2.75zM144.9 143.3h3.30l-1.65 2.75zM150.3 143.3h3.30l-1.65 2.75zM155.8 143.3h3.30l-1.65 2.75zM161.2 143.3h3.30l-1.65 2.75zM166.5 143.3h3.30l-1.65 2.75zM171.9 143.3h3.30l-1.65 2.75zM177.3 143.3h3.30l-1.65 2.75zM182.8 143.3h3.30l-1.65 2.75zM188.2 143.3h3.30l-1.65 2.75zM45.0 148.0h3.30l-1.65 2.75zM50.4 148.0h3.30l-1.65 2.75zM55.9 148.0h3.30l-1.65 2.75zM61.2 148.0h3.30l-1.65 2.75zM66.6 148.0h3.30l-1.65 2.75zM72.0 148.0h3.30l-1.65 2.75zM77.5 148.0h3.30l-1.65 2.75zM82.9 148.0h3.30l-1.65 2.75zM88.2 148.0h3.30l-1.65 2.75zM93.6 148.0h3.30l-1.65 2.75zM99.0 148.0h3.30l-1.65 2.75zM104.5 148.0h3.30l-1.65 2.75zM109.9 148.0h3.30l-1.65 2.75zM115.2 148.0h3.30l-1.65 2.75zM120.6 148.0h3.30l-1.65 2.75zM126.0 148.0h3.30l-1.65 2.75zM131.4 148.0h3.30l-1.65 2.75zM136.8 148.0h3.30l-1.65 2.75zM142.2 148.0h3.30l-1.65 2.75zM147.7 148.0h3.30l-1.65 2.75zM153.0 148.0h3.30l-1.65 2.75zM158.4 148.0h3.30l-1.65 2.75zM163.8 148.0h3.30l-1.65 2.75zM169.2 148.0h3.30l-1.65 2.75zM174.7 148.0h3.30l-1.65 2.75zM180.0 148.0h3.30l-1.65 2.75zM185.4 148.0h3.30l-1.65 2.75zM190.8 148.0h3.30l-1.65 2.75zM47.7 152.7h3.30l-1.65 2.75zM53.1 152.7h3.30l-1.65 2.75zM58.5 152.7h3.30l-1.65 2.75zM63.9 152.7h3.30l-1.65 2.75zM69.3 152.7h3.30l-1.65 2.75zM74.7 152.7h3.30l-1.65 2.75zM80.1 152.7h3.30l-1.65 2.75zM85.5 152.7h3.30l-1.65 2.75zM90.9 152.7h3.30l-1.65 2.75zM96.3 152.7h3.30l-1.65 2.75zM101.7 152.7h3.30l-1.65 2.75zM107.1 152.7h3.30l-1.65 2.75zM112.5 152.7h3.30l-1.65 2.75zM117.9 152.7h3.30l-1.65 2.75zM123.3 152.7h3.30l-1.65 2.75zM128.7 152.7h3.30l-1.65 2.75zM134.2 152.7h3.30l-1.65 2.75zM139.5 152.7h3.30l-1.65 2.75zM144.9 152.7h3.30l-1.65 2.75zM150.3 152.7h3.30l-1.65 2.75zM155.7 152.7h3.30l-1.65 2.75zM161.1 152.7h3.30l-1.65 2.75zM166.5 152.7h3.30l-1.65 2.75zM171.9 152.7h3.30l-1.65 2.75zM177.3 152.7h3.30l-1.65 2.75zM182.7 152.7h3.30l-1.65 2.75zM188.1 152.7h3.30l-1.65 2.75zM45.0 157.4h3.30l-1.65 2.75zM50.4 157.4h3.30l-1.65 2.75zM55.9 157.4h3.30l-1.65 2.75zM61.2 157.4h3.30l-1.65 2.75zM66.6 157.4h3.30l-1.65 2.75zM72.0 157.4h3.30l-1.65 2.75zM77.4 157.4h3.30l-1.65 2.75zM82.8 157.4h3.30l-1.65 2.75zM88.2 157.4h3.30l-1.65 2.75zM93.6 157.4h3.30l-1.65 2.75zM99.0 157.4h3.30l-1.65 2.75zM104.4 157.4h3.30l-1.65 2.75zM109.8 157.4h3.30l-1.65 2.75zM115.2 157.4h3.30l-1.65 2.75zM120.6 157.4h3.30l-1.65 2.75zM126.0 157.4h3.30l-1.65 2.75zM131.4 157.4h3.30l-1.65 2.75zM136.8 157.4h3.30l-1.65 2.75zM142.2 157.4h3.30l-1.65 2.75zM147.7 157.4h3.30l-1.65 2.75zM153.0 157.4h3.30l-1.65 2.75zM158.4 157.4h3.30l-1.65 2.75zM163.8 157.4h3.30l-1.65 2.75zM169.2 157.4h3.30l-1.65 2.75zM174.6 157.4h3.30l-1.65 2.75zM180.0 157.4h3.30l-1.65 2.75zM185.4 157.4h3.30l-1.65 2.75zM190.8 157.4h3.30l-1.65 2.75zM47.7 162.0h3.30l-1.65 2.75zM53.1 162.0h3.30l-1.65 2.75zM58.5 162.0h3.30l-1.65 2.75zM64.0 162.0h3.30l-1.65 2.75zM69.3 162.0h3.30l-1.65 2.75zM74.7 162.0h3.30l-1.65 2.75zM80.1 162.0h3.30l-1.65 2.75zM85.5 162.0h3.30l-1.65 2.75zM91.0 162.0h3.30l-1.65 2.75zM96.3 162.0h3.30l-1.65 2.75zM101.7 162.0h3.30l-1.65 2.75zM107.1 162.0h3.30l-1.65 2.75zM112.5 162.0h3.30l-1.65 2.75zM118.0 162.0h3.30l-1.65 2.75zM123.3 162.0h3.30l-1.65 2.75zM128.8 162.0h3.30l-1.65 2.75zM134.2 162.0h3.30l-1.65 2.75zM139.5 162.0h3.30l-1.65 2.75zM145.0 162.0h3.30l-1.65 2.75zM150.3 162.0h3.30l-1.65 2.75zM155.8 162.0h3.30l-1.65 2.75zM161.1 162.0h3.30l-1.65 2.75zM166.5 162.0h3.30l-1.65 2.75zM171.9 162.0h3.30l-1.65 2.75zM177.3 162.0h3.30l-1.65 2.75zM182.8 162.0h3.30l-1.65 2.75zM188.1 162.0h3.30l-1.65 2.75zM45.0 166.7h3.30l-1.65 2.75zM50.4 166.7h3.30l-1.65 2.75zM55.8 166.7h3.30l-1.65 2.75zM61.2 166.7h3.30l-1.65 2.75zM66.6 166.7h3.30l-1.65 2.75zM72.0 166.7h3.30l-1.65 2.75zM77.4 166.7h3.30l-1.65 2.75zM82.8 166.7h3.30l-1.65 2.75zM88.2 166.7h3.30l-1.65 2.75zM93.6 166.7h3.30l-1.65 2.75zM99.0 166.7h3.30l-1.65 2.75zM104.4 166.7h3.30l-1.65 2.75zM109.8 166.7h3.30l-1.65 2.75zM115.2 166.7h3.30l-1.65 2.75zM120.6 166.7h3.30l-1.65 2.75zM126.0 166.7h3.30l-1.65 2.75zM131.4 166.7h3.30l-1.65 2.75zM136.8 166.7h3.30l-1.65 2.75zM142.2 166.7h3.30l-1.65 2.75zM147.7 166.7h3.30l-1.65 2.75zM153.0 166.7h3.30l-1.65 2.75zM158.4 166.7h3.30l-1.65 2.75zM163.8 166.7h3.30l-1.65 2.75zM169.2 166.7h3.30l-1.65 2.75zM174.7 166.7h3.30l-1.65 2.75zM180.0 166.7h3.30l-1.65 2.75zM185.4 166.7h3.30l-1.65 2.75zM190.8 166.7h3.30l-1.65 2.75zM47.7 171.4h3.30l-1.65 2.75zM53.1 171.4h3.30l-1.65 2.75zM58.5 171.4h3.30l-1.65 2.75zM64.0 171.4h3.30l-1.65 2.75zM69.4 171.4h3.30l-1.65 2.75zM74.7 171.4h3.30l-1.65 2.75zM80.1 171.4h3.30l-1.65 2.75zM85.5 171.4h3.30l-1.65 2.75zM91.0 171.4h3.30l-1.65 2.75zM96.4 171.4h3.30l-1.65 2.75zM101.7 171.4h3.30l-1.65 2.75zM107.1 171.4h3.30l-1.65 2.75zM112.5 171.4h3.30l-1.65 2.75zM118.0 171.4h3.30l-1.65 2.75zM123.4 171.4h3.30l-1.65 2.75zM128.7 171.4h3.30l-1.65 2.75zM134.2 171.4h3.30l-1.65 2.75zM139.5 171.4h3.30l-1.65 2.75zM145.0 171.4h3.30l-1.65 2.75zM150.3 171.4h3.30l-1.65 2.75zM155.8 171.4h3.30l-1.65 2.75zM161.2 171.4h3.30l-1.65 2.75zM166.5 171.4h3.30l-1.65 2.75zM171.9 171.4h3.30l-1.65 2.75zM177.3 171.4h3.30l-1.65 2.75zM182.8 171.4h3.30l-1.65 2.75zM188.2 171.4h3.30l-1.65 2.75zM45.0 176.1h3.30l-1.65 2.75zM50.4 176.1h3.30l-1.65 2.75zM55.8 176.1h3.30l-1.65 2.75zM61.2 176.1h3.30l-1.65 2.75zM66.6 176.1h3.30l-1.65 2.75zM72.0 176.1h3.30l-1.65 2.75zM77.4 176.1h3.30l-1.65 2.75zM82.8 176.1h3.30l-1.65 2.75zM88.2 176.1h3.30l-1.65 2.75zM93.6 176.1h3.30l-1.65 2.75zM99.0 176.1h3.30l-1.65 2.75zM104.4 176.1h3.30l-1.65 2.75zM109.8 176.1h3.30l-1.65 2.75zM115.2 176.1h3.30l-1.65 2.75zM120.6 176.1h3.30l-1.65 2.75zM126.0 176.1h3.30l-1.65 2.75zM131.4 176.1h3.30l-1.65 2.75zM136.8 176.1h3.30l-1.65 2.75zM142.2 176.1h3.30l-1.65 2.75zM147.7 176.1h3.30l-1.65 2.75zM153.0 176.1h3.30l-1.65 2.75zM158.4 176.1h3.30l-1.65 2.75zM163.8 176.1h3.30l-1.65 2.75zM169.2 176.1h3.30l-1.65 2.75zM174.6 176.1h3.30l-1.65 2.75zM180.0 176.1h3.30l-1.65 2.75zM185.4 176.1h3.30l-1.65 2.75zM190.8 176.1h3.30l-1.65 2.75zM47.7 180.7h3.30l-1.65 2.75zM53.1 180.7h3.30l-1.65 2.75zM58.5 180.7h3.30l-1.65 2.75zM63.9 180.7h3.30l-1.65 2.75zM69.3 180.7h3.30l-1.65 2.75zM74.8 180.7h3.30l-1.65 2.75zM80.1 180.7h3.30l-1.65 2.75zM85.5 180.7h3.30l-1.65 2.75zM90.9 180.7h3.30l-1.65 2.75zM96.3 180.7h3.30l-1.65 2.75zM101.8 180.7h3.30l-1.65 2.75zM107.1 180.7h3.30l-1.65 2.75zM112.5 180.7h3.30l-1.65 2.75zM117.9 180.7h3.30l-1.65 2.75zM123.3 180.7h3.30l-1.65 2.75zM128.8 180.7h3.30l-1.65 2.75zM134.1 180.7h3.30l-1.65 2.75zM139.5 180.7h3.30l-1.65 2.75zM144.9 180.7h3.30l-1.65 2.75zM150.3 180.7h3.30l-1.65 2.75zM155.8 180.7h3.30l-1.65 2.75zM161.1 180.7h3.30l-1.65 2.75zM166.5 180.7h3.30l-1.65 2.75zM171.9 180.7h3.30l-1.65 2.75zM177.3 180.7h3.30l-1.65 2.75zM182.8 180.7h3.30l-1.65 2.75zM188.1 180.7h3.30l-1.65 2.75zM45.0 185.4h3.30l-1.65 2.75zM50.4 185.4h3.30l-1.65 2.75zM55.8 185.4h3.30l-1.65 2.75zM61.2 185.4h3.30l-1.65 2.75zM66.6 185.4h3.30l-1.65 2.75zM72.0 185.4h3.30l-1.65 2.75zM77.5 185.4h3.30l-1.65 2.75zM82.8 185.4h3.30l-1.65 2.75zM88.2 185.4h3.30l-1.65 2.75zM93.6 185.4h3.30l-1.65 2.75zM99.0 185.4h3.30l-1.65 2.75zM104.5 185.4h3.30l-1.65 2.75zM109.8 185.4h3.30l-1.65 2.75zM115.2 185.4h3.30l-1.65 2.75zM120.6 185.4h3.30l-1.65 2.75zM126.0 185.4h3.30l-1.65 2.75zM131.5 185.4h3.30l-1.65 2.75zM136.8 185.4h3.30l-1.65 2.75zM142.2 185.4h3.30l-1.65 2.75zM147.7 185.4h3.30l-1.65 2.75zM153.0 185.4h3.30l-1.65 2.75zM158.5 185.4h3.30l-1.65 2.75zM163.8 185.4h3.30l-1.65 2.75zM169.2 185.4h3.30l-1.65 2.75zM174.6 185.4h3.30l-1.65 2.75zM180.0 185.4h3.30l-1.65 2.75zM185.4 185.4h3.30l-1.65 2.75zM190.8 185.4h3.30l-1.65 2.75zM47.7 190.1h3.30l-1.65 2.75zM53.2 190.1h3.30l-1.65 2.75zM58.5 190.1h3.30l-1.65 2.75zM63.9 190.1h3.30l-1.65 2.75zM69.3 190.1h3.30l-1.65 2.75zM74.8 190.1h3.30l-1.65 2.75zM80.2 190.1h3.30l-1.65 2.75zM85.5 190.1h3.30l-1.65 2.75zM90.9 190.1h3.30l-1.65 2.75zM96.3 190.1h3.30l-1.65 2.75zM101.8 190.1h3.30l-1.65 2.75zM107.2 190.1h3.30l-1.65 2.75zM112.5 190.1h3.30l-1.65 2.75zM117.9 190.1h3.30l-1.65 2.75zM123.3 190.1h3.30l-1.65 2.75zM128.8 190.1h3.30l-1.65 2.75zM134.2 190.1h3.30l-1.65 2.75zM139.5 190.1h3.30l-1.65 2.75zM145.0 190.1h3.30l-1.65 2.75zM150.3 190.1h3.30l-1.65 2.75zM155.8 190.1h3.30l-1.65 2.75zM161.2 190.1h3.30l-1.65 2.75zM166.5 190.1h3.30l-1.65 2.75zM171.9 190.1h3.30l-1.65 2.75zM177.3 190.1h3.30l-1.65 2.75zM182.8 190.1h3.30l-1.65 2.75zM188.2 190.1h3.30l-1.65 2.75zM45.0 194.8h3.30l-1.65 2.75zM50.4 194.8h3.30l-1.65 2.75zM55.9 194.8h3.30l-1.65 2.75zM61.2 194.8h3.30l-1.65 2.75zM66.6 194.8h3.30l-1.65 2.75zM72.0 194.8h3.30l-1.65 2.75zM77.5 194.8h3.30l-1.65 2.75zM82.9 194.8h3.30l-1.65 2.75zM88.2 194.8h3.30l-1.65 2.75zM93.6 194.8h3.30l-1.65 2.75zM99.0 194.8h3.30l-1.65 2.75zM104.5 194.8h3.30l-1.65 2.75zM109.9 194.8h3.30l-1.65 2.75zM115.2 194.8h3.30l-1.65 2.75zM120.6 194.8h3.30l-1.65 2.75zM126.0 194.8h3.30l-1.65 2.75zM131.5 194.8h3.30l-1.65 2.75zM136.8 194.8h3.30l-1.65 2.75zM142.2 194.8h3.30l-1.65 2.75zM147.7 194.8h3.30l-1.65 2.75zM153.0 194.8h3.30l-1.65 2.75zM158.5 194.8h3.30l-1.65 2.75zM163.8 194.8h3.30l-1.65 2.75zM169.2 194.8h3.30l-1.65 2.75zM174.7 194.8h3.30l-1.65 2.75zM180.0 194.8h3.30l-1.65 2.75zM185.4 194.8h3.30l-1.65 2.75zM190.8 194.8h3.30l-1.65 2.75zM47.7 199.5h3.30l-1.65 2.75zM53.1 199.5h3.30l-1.65 2.75zM58.5 199.5h3.30l-1.65 2.75zM63.9 199.5h3.30l-1.65 2.75zM69.3 199.5h3.30l-1.65 2.75zM74.7 199.5h3.30l-1.65 2.75zM80.1 199.5h3.30l-1.65 2.75zM85.5 199.5h3.30l-1.65 2.75zM90.9 199.5h3.30l-1.65 2.75zM96.3 199.5h3.30l-1.65 2.75zM101.7 199.5h3.30l-1.65 2.75zM107.1 199.5h3.30l-1.65 2.75zM112.5 199.5h3.30l-1.65 2.75zM117.9 199.5h3.30l-1.65 2.75zM123.3 199.5h3.30l-1.65 2.75zM128.7 199.5h3.30l-1.65 2.75zM134.2 199.5h3.30l-1.65 2.75zM139.5 199.5h3.30l-1.65 2.75zM144.9 199.5h3.30l-1.65 2.75zM150.3 199.5h3.30l-1.65 2.75zM155.7 199.5h3.30l-1.65 2.75zM161.1 199.5h3.30l-1.65 2.75zM166.5 199.5h3.30l-1.65 2.75zM171.9 199.5h3.30l-1.65 2.75zM177.3 199.5h3.30l-1.65 2.75zM182.7 199.5h3.30l-1.65 2.75zM188.1 199.5h3.30l-1.65 2.75zM45.0 204.1h3.30l-1.65 2.75zM50.4 204.1h3.30l-1.65 2.75zM55.9 204.1h3.30l-1.65 2.75zM61.2 204.1h3.30l-1.65 2.75zM66.6 204.1h3.30l-1.65 2.75zM72.0 204.1h3.30l-1.65 2.75zM77.4 204.1h3.30l-1.65 2.75zM82.8 204.1h3.30l-1.65 2.75zM88.2 204.1h3.30l-1.65 2.75zM93.6 204.1h3.30l-1.65 2.75zM99.0 204.1h3.30l-1.65 2.75zM104.4 204.1h3.30l-1.65 2.75zM109.8 204.1h3.30l-1.65 2.75zM115.2 204.1h3.30l-1.65 2.75zM120.6 204.1h3.30l-1.65 2.75zM126.0 204.1h3.30l-1.65 2.75zM131.4 204.1h3.30l-1.65 2.75zM136.8 204.1h3.30l-1.65 2.75zM142.2 204.1h3.30l-1.65 2.75zM147.6 204.1h3.30l-1.65 2.75zM153.0 204.1h3.30l-1.65 2.75zM158.4 204.1h3.30l-1.65 2.75zM163.8 204.1h3.30l-1.65 2.75zM169.2 204.1h3.30l-1.65 2.75zM174.6 204.1h3.30l-1.65 2.75zM180.0 204.1h3.30l-1.65 2.75zM185.4 204.1h3.30l-1.65 2.75zM190.8 204.1h3.30l-1.65 2.75z" fill="#1010ee"/><path d="M141.9 33.8h0M145.3 38.8h0M148.6 43.8h0M152.0 48.8h0M155.3 53.7h0M158.7 58.7h0M162.1 63.7h0M165.4 68.7h0M168.8 73.7h0M172.1 78.7h0M175.5 83.7h0M178.8 88.7h0M182.2 93.7h0M185.6 98.7h0M188.9 103.7h0M192.3 108.6h0M195.6 113.6h0M199.0 118.6h0M202.4 123.6h0M205.7 128.6h0M209.1 133.6h0M212.4 138.6h0M215.8 143.6h0M219.1 148.6h0M135.9 34.2h0M139.3 39.2h0M142.6 44.2h0M146.0 49.2h0M149.3 54.2h0M152.7 59.1h0M156.1 64.1h0M159.4 69.1h0M162.8 74.1h0M166.1 79.1h0M169.5 84.1h0M172.8 89.1h0M176.2 94.1h0M179.6 99.1h0M182.9 104.1h0M186.3 109.1h0M189.6 114.0h0M193.0 119.0h0M196.4 124.0h0M199.7 129.0h0M203.1 134.0h0M206.4 139.0h0M209.8 144.0h0M213.1 149.0h0M216.5 154.0h0M133.3 39.6h0M136.6 44.6h0M140.0 49.6h0M143.3 54.6h0M146.7 59.6h0M150.1 64.6h0M153.4 69.5h0M156.8 74.5h0M160.1 79.5h0M163.5 84.5h0M166.8 89.5h0M170.2 94.5h0M173.6 99.5h0M176.9 104.5h0M180.3 109.5h0M183.6 114.5h0M187.0 119.4h0M190.3 124.4h0M193.7 129.4h0M197.1 134.4h0M200.4 139.4h0M203.8 144.4h0M207.1 149.4h0M210.5 154.4h0M127.3 40.0h0M130.6 45.0h0M134.0 50.0h0M137.3 55.0h0M140.7 60.0h0M144.1 65.0h0M147.4 70.0h0M150.8 74.9h0M154.1 79.9h0M157.5 84.9h0M160.8 89.9h0M164.2 94.9h0M167.6 99.9h0M170.9 104.9h0M174.3 109.9h0M177.6 114.9h0M181.0 119.9h0M184.3 124.9h0M187.7 129.8h0M191.1 134.8h0M194.4 139.8h0M197.8 144.8h0M201.1 149.8h0M204.5 154.8h0M207.9 159.8h0M124.6 45.4h0M128.0 50.4h0M131.3 55.4h0M134.7 60.4h0M138.1 65.4h0M141.4 70.4h0M144.8 75.4h0M148.1 80.3h0M151.5 85.3h0M154.8 90.3h0M158.2 95.3h0M161.6 100.3h0M164.9 105.3h0M168.3 110.3h0M171.6 115.3h0M175.0 120.3h0M178.3 125.3h0M181.7 130.3h0M185.1 135.2h0M188.4 140.2h0M191.8 145.2h0M195.1 150.2h0M198.5 155.2h0M201.9 160.2h0M118.6 45.8h0M122.0 50.8h0M125.3 55.8h0M128.7 60.8h0M132.1 65.8h0M135.4 70.8h0M138.8 75.8h0M142.1 80.8h0M145.5 85.8h0M148.8 90.7h0M152.2 95.7h0M155.6 100.7h0M158.9 105.7h0M162.3 110.7h0M165.6 115.7h0M169.0 120.7h0M172.3 125.7h0M175.7 130.7h0M179.1 135.7h0M182.4 140.6h0M185.8 145.6h0M189.1 150.6h0M192.5 155.6h0M195.9 160.6h0M199.2 165.6h0M116.0 51.2h0M119.3 56.2h0M122.7 61.2h0M126.1 66.2h0M129.4 71.2h0M132.8 76.2h0M136.1 81.2h0M139.5 86.2h0M142.8 91.2h0M146.2 96.1h0M149.6 101.1h0M152.9 106.1h0M156.3 111.1h0M159.6 116.1h0M163.0 121.1h0M166.3 126.1h0M169.7 131.1h0M173.1 136.1h0M176.4 141.1h0M179.8 146.1h0M183.1 151.0h0M186.5 156.0h0M189.9 161.0h0M193.2 166.0h0M110.0 51.6h0M113.3 56.6h0M116.7 61.6h0M120.1 66.6h0M123.4 71.6h0M126.8 76.6h0M130.1 81.6h0M133.5 86.6h0M136.8 91.6h0M140.2 96.6h0M143.6 101.5h0M146.9 106.5h0M150.3 111.5h0M153.6 116.5h0M157.0 121.5h0M160.3 126.5h0M163.7 131.5h0M167.1 136.5h0M170.4 141.5h0M173.8 146.5h0M177.1 151.5h0M180.5 156.4h0M183.9 161.4h0M187.2 166.4h0M190.6 171.4h0M107.3 57.0h0M110.7 62.0h0M114.1 67.0h0M117.4 72.0h0M120.8 77.0h0M124.1 82.0h0M127.5 87.0h0M130.8 92.0h0M134.2 97.0h0M137.6 102.0h0M140.9 107.0h0M144.3 111.9h0M147.6 116.9h0M151.0 121.9h0M154.3 126.9h0M157.7 131.9h0M161.1 136.9h0M164.4 141.9h0M167.8 146.9h0M171.1 151.9h0M174.5 156.9h0M177.8 161.8h0M181.2 166.8h0M184.6 171.8h0M101.3 57.5h0M104.7 62.5h0M108.1 67.4h0M111.4 72.4h0M114.8 77.4h0M118.1 82.4h0M121.5 87.4h0M124.8 92.4h0M128.2 97.4h0M131.6 102.4h0M134.9 107.4h0M138.3 112.4h0M141.6 117.3h0M145.0 122.3h0M148.3 127.3h0M151.7 132.3h0M155.1 137.3h0M158.4 142.3h0M161.8 147.3h0M165.1 152.3h0M168.5 157.3h0M171.8 162.3h0M175.2 167.3h0M178.6 172.2h0M181.9 177.2h0M98.7 62.9h0M102.0 67.9h0M105.4 72.8h0M108.8 77.8h0M112.1 82.8h0M115.5 87.8h0M118.8 92.8h0M122.2 97.8h0M125.6 102.8h0M128.9 107.8h0M132.3 112.8h0M135.6 117.8h0M139.0 122.7h0M142.3 127.7h0M145.7 132.7h0M149.1 137.7h0M152.4 142.7h0M155.8 147.7h0M159.1 152.7h0M162.5 157.7h0M165.8 162.7h0M169.2 167.7h0M172.6 172.7h0M175.9 177.6h0M92.7 63.3h0M96.0 68.3h0M99.4 73.3h0M102.8 78.2h0M106.1 83.2h0M109.5 88.2h0M112.8 93.2h0M116.2 98.2h0M119.6 103.2h0M122.9 108.2h0M126.3 113.2h0M129.6 118.2h0M133.0 123.2h0M136.3 128.2h0M139.7 133.1h0M143.1 138.1h0M146.4 143.1h0M149.8 148.1h0M153.1 153.1h0M156.5 158.1h0M159.8 163.1h0M163.2 168.1h0M166.6 173.1h0M169.9 178.1h0M173.3 183.0h0M90.0 68.7h0M93.4 73.7h0M96.8 78.7h0M100.1 83.7h0M103.5 88.6h0M106.8 93.6h0M110.2 98.6h0M113.6 103.6h0M116.9 108.6h0M120.3 113.6h0M123.6 118.6h0M127.0 123.6h0M130.3 128.6h0M133.7 133.6h0M137.1 138.5h0M140.4 143.5h0M143.8 148.5h0M147.1 153.5h0M150.5 158.5h0M153.8 163.5h0M157.2 168.5h0M160.6 173.5h0M163.9 178.5h0M167.3 183.5h0M84.0 69.1h0M87.4 74.1h0M90.8 79.1h0M94.1 84.1h0M97.5 89.1h0M100.8 94.0h0M104.2 99.0h0M107.6 104.0h0M110.9 109.0h0M114.3 114.0h0M117.6 119.0h0M121.0 124.0h0M124.3 129.0h0M127.7 134.0h0M131.1 139.0h0M134.4 143.9h0M137.8 148.9h0M141.1 153.9h0M144.5 158.9h0M147.8 163.9h0M151.2 168.9h0M154.6 173.9h0M157.9 178.9h0M161.3 183.9h0M164.6 188.9h0M81.4 74.5h0M84.8 79.5h0M88.1 84.5h0M91.5 89.5h0M94.8 94.5h0M98.2 99.4h0M101.6 104.4h0M104.9 109.4h0M108.3 114.4h0M111.6 119.4h0M115.0 124.4h0M118.3 129.4h0M121.7 134.4h0M125.1 139.4h0M128.4 144.4h0M131.8 149.4h0M135.1 154.3h0M138.5 159.3h0M141.8 164.3h0M145.2 169.3h0M148.6 174.3h0M151.9 179.3h0M155.3 184.3h0M158.6 189.3h0M75.4 74.9h0M78.8 79.9h0M82.1 84.9h0M85.5 89.9h0M88.8 94.9h0M92.2 99.9h0M95.6 104.9h0M98.9 109.8h0M102.3 114.8h0M105.6 119.8h0M109.0 124.8h0M112.3 129.8h0M115.7 134.8h0M119.1 139.8h0M122.4 144.8h0M125.8 149.8h0M129.1 154.8h0M132.5 159.7h0M135.8 164.7h0M139.2 169.7h0M142.6 174.7h0M145.9 179.7h0M149.3 184.7h0M152.6 189.7h0M156.0 194.7h0M72.8 80.3h0M76.1 85.3h0M79.5 90.3h0M82.8 95.3h0M86.2 100.3h0M89.5 105.3h0M92.9 110.3h0M96.3 115.2h0M99.6 120.2h0M103.0 125.2h0M106.3 130.2h0M109.7 135.2h0M113.1 140.2h0M116.4 145.2h0M119.8 150.2h0M123.1 155.2h0M126.5 160.2h0M129.8 165.1h0M133.2 170.1h0M136.6 175.1h0M139.9 180.1h0M143.3 185.1h0M146.6 190.1h0M150.0 195.1h0M66.8 80.7h0M70.1 85.7h0M73.5 90.7h0M76.8 95.7h0M80.2 100.7h0M83.5 105.7h0M86.9 110.7h0M90.3 115.7h0M93.6 120.6h0M97.0 125.6h0M100.3 130.6h0M103.7 135.6h0M107.1 140.6h0M110.4 145.6h0M113.8 150.6h0M117.1 155.6h0M120.5 160.6h0M123.8 165.6h0M127.2 170.6h0M130.6 175.5h0M133.9 180.5h0M137.3 185.5h0M140.6 190.5h0M144.0 195.5h0M147.3 200.5h0M64.1 86.1h0M67.5 91.1h0M70.8 96.1h0M74.2 101.1h0M77.5 106.1h0M80.9 111.1h0M84.3 116.1h0M87.6 121.1h0M91.0 126.1h0M94.3 131.0h0M97.7 136.0h0M101.1 141.0h0M104.4 146.0h0M107.8 151.0h0M111.1 156.0h0M114.5 161.0h0M117.8 166.0h0M121.2 171.0h0M124.6 176.0h0M127.9 180.9h0M131.3 185.9h0M134.6 190.9h0M138.0 195.9h0M141.3 200.9h0M58.1 86.5h0M61.5 91.5h0M64.8 96.5h0M68.2 101.5h0M71.5 106.5h0M74.9 111.5h0M78.3 116.5h0M81.6 121.5h0M85.0 126.5h0M88.3 131.5h0M91.7 136.4h0M95.1 141.4h0M98.4 146.4h0M101.8 151.4h0M105.1 156.4h0M108.5 161.4h0M111.8 166.4h0M115.2 171.4h0M118.6 176.4h0M121.9 181.4h0M125.3 186.3h0M128.6 191.3h0M132.0 196.3h0M135.3 201.3h0M138.7 206.3h0M55.5 91.9h0M58.8 96.9h0M62.2 101.9h0M65.5 106.9h0M68.9 111.9h0M72.3 116.9h0M75.6 121.9h0M79.0 126.9h0M82.3 131.9h0M85.7 136.9h0M89.1 141.8h0M92.4 146.8h0M95.8 151.8h0M99.1 156.8h0M102.5 161.8h0M105.8 166.8h0M109.2 171.8h0M112.6 176.8h0M115.9 181.8h0M119.3 186.8h0M122.6 191.8h0M126.0 196.7h0M129.3 201.7h0M132.7 206.7h0M49.5 92.4h0M52.8 97.3h0M56.2 102.3h0M59.5 107.3h0M62.9 112.3h0M66.3 117.3h0M69.6 122.3h0M73.0 127.3h0M76.3 132.3h0M79.7 137.3h0M83.0 142.3h0M86.4 147.3h0M89.8 152.2h0M93.1 157.2h0M96.5 162.2h0M99.8 167.2h0M103.2 172.2h0M106.6 177.2h0M109.9 182.2h0M113.3 187.2h0M116.6 192.2h0M120.0 197.2h0M123.3 202.1h0M126.7 207.1h0M130.1 212.1h0M46.8 97.8h0M50.2 102.7h0M53.5 107.7h0M56.9 112.7h0M60.3 117.7h0M63.6 122.7h0M67.0 127.7h0M70.3 132.7h0M73.7 137.7h0M77.0 142.7h0M80.4 147.7h0M83.8 152.7h0M87.1 157.6h0M90.5 162.6h0M93.8 167.6h0M97.2 172.6h0M100.6 177.6h0M103.9 182.6h0M107.3 187.6h0M110.6 192.6h0M114.0 197.6h0M117.3 202.6h0M120.7 207.5h0M124.1 212.5h0M40.8 98.2h0M44.2 103.2h0M47.5 108.2h0M50.9 113.1h0M54.3 118.1h0M57.6 123.1h0M61.0 128.1h0M64.3 133.1h0M67.7 138.1h0M71.0 143.1h0M74.4 148.1h0M77.8 153.1h0M81.1 158.1h0M84.5 163.0h0M87.8 168.0h0M91.2 173.0h0M94.6 178.0h0M97.9 183.0h0M101.3 188.0h0M104.6 193.0h0M108.0 198.0h0M111.3 203.0h0M114.7 208.0h0M118.1 213.0h0M121.4 217.9h0M38.2 103.6h0M41.5 108.6h0M44.9 113.6h0M48.3 118.5h0M51.6 123.5h0M55.0 128.5h0M58.3 133.5h0M61.7 138.5h0M65.0 143.5h0M68.4 148.5h0M71.8 153.5h0M75.1 158.5h0M78.5 163.5h0M81.8 168.5h0M85.2 173.4h0M88.6 178.4h0M91.9 183.4h0M95.3 188.4h0M98.6 193.4h0M102.0 198.4h0M105.3 203.4h0M108.7 208.4h0M112.1 213.4h0M115.4 218.4h0M32.2 104.0h0M35.5 109.0h0M38.9 114.0h0M42.3 119.0h0M45.6 123.9h0M49.0 128.9h0M52.3 133.9h0M55.7 138.9h0M59.0 143.9h0M62.4 148.9h0M65.8 153.9h0M69.1 158.9h0M72.5 163.9h0M75.8 168.9h0M79.2 173.9h0M82.6 178.8h0M85.9 183.8h0M89.3 188.8h0M92.6 193.8h0M96.0 198.8h0M99.3 203.8h0M102.7 208.8h0M106.1 213.8h0M109.4 218.8h0M112.8 223.8h0M29.5 109.4h0M32.9 114.4h0M36.3 119.4h0M39.6 124.4h0M43.0 129.4h0M46.3 134.3h0M49.7 139.3h0M53.0 144.3h0M56.4 149.3h0M59.8 154.3h0M63.1 159.3h0M66.5 164.3h0M69.8 169.3h0M73.2 174.3h0M76.6 179.3h0M79.9 184.2h0M83.3 189.2h0M86.6 194.2h0M90.0 199.2h0M93.3 204.2h0M96.7 209.2h0M100.1 214.2h0M103.4 219.2h0M106.8 224.2h0M23.5 109.8h0M26.9 114.8h0M30.3 119.8h0M33.6 124.8h0M37.0 129.8h0M40.3 134.8h0M43.7 139.7h0M47.0 144.7h0M50.4 149.7h0M53.8 154.7h0M57.1 159.7h0M60.5 164.7h0M63.8 169.7h0M67.2 174.7h0M70.5 179.7h0M73.9 184.7h0M77.3 189.7h0M80.6 194.6h0M84.0 199.6h0M87.3 204.6h0M90.7 209.6h0M94.1 214.6h0M97.4 219.6h0M100.8 224.6h0M104.1 229.6h0" stroke="#22ee22" stroke-width="2.50" stroke-linecap="round" fill="none"/><path d="M138.9 31.9h0M142.3 36.9h0M145.6 41.9h0M149.0 46.9h0M152.3 51.9h0M155.7 56.9h0M159.0 61.9h0M162.4 66.9h0M165.8 71.8h0M169.1 76.8h0M172.5 81.8h0M175.8 86.8h0M179.2 91.8h0M182.6 96.8h0M185.9 101.8h0M189.3 106.8h0M192.6 111.8h0M196.0 116.8h0M199.3 121.7h0M202.7 126.7h0M206.1 131.7h0M209.4 136.7h0M212.8 141.7h0M216.1 146.7h0M219.5 151.7h0M136.3 37.3h0M139.6 42.3h0M143.0 47.3h0M146.3 52.3h0M149.7 57.3h0M153.0 62.3h0M156.4 67.3h0M159.8 72.3h0M163.1 77.2h0M166.5 82.2h0M169.8 87.2h0M173.2 92.2h0M176.6 97.2h0M179.9 102.2h0M183.3 107.2h0M186.6 112.2h0M190.0 117.2h0M193.3 122.2h0M196.7 127.2h0M200.1 132.1h0M203.4 137.1h0M206.8 142.1h0M210.1 147.1h0M213.5 152.1h0M130.3 37.7h0M133.6 42.7h0M137.0 47.7h0M140.3 52.7h0M143.7 57.7h0M147.0 62.7h0M150.4 67.7h0M153.8 72.7h0M157.1 77.7h0M160.5 82.7h0M163.8 87.6h0M167.2 92.6h0M170.5 97.6h0M173.9 102.6h0M177.3 107.6h0M180.6 112.6h0M184.0 117.6h0M187.3 122.6h0M190.7 127.6h0M194.1 132.6h0M197.4 137.5h0M200.8 142.5h0M204.1 147.5h0M207.5 152.5h0M210.8 157.5h0M127.6 43.1h0M131.0 48.1h0M134.3 53.1h0M137.7 58.1h0M141.0 63.1h0M144.4 68.1h0M147.8 73.1h0M151.1 78.1h0M154.5 83.1h0M157.8 88.1h0M161.2 93.0h0M164.5 98.0h0M167.9 103.0h0M171.3 108.0h0M174.6 113.0h0M178.0 118.0h0M181.3 123.0h0M184.7 128.0h0M188.1 133.0h0M191.4 138.0h0M194.8 142.9h0M198.1 147.9h0M201.5 152.9h0M204.8 157.9h0M121.6 43.6h0M125.0 48.5h0M128.3 53.5h0M131.7 58.5h0M135.0 63.5h0M138.4 68.5h0M141.8 73.5h0M145.1 78.5h0M148.5 83.5h0M151.8 88.5h0M155.2 93.5h0M158.5 98.4h0M161.9 103.4h0M165.3 108.4h0M168.6 113.4h0M172.0 118.4h0M175.3 123.4h0M178.7 128.4h0M182.1 133.4h0M185.4 138.4h0M188.8 143.4h0M192.1 148.4h0M195.5 153.3h0M198.8 158.3h0M202.2 163.3h0M119.0 49.0h0M122.3 53.9h0M125.7 58.9h0M129.0 63.9h0M132.4 68.9h0M135.8 73.9h0M139.1 78.9h0M142.5 83.9h0M145.8 88.9h0M149.2 93.9h0M152.5 98.9h0M155.9 103.9h0M159.3 108.8h0M162.6 113.8h0M166.0 118.8h0M169.3 123.8h0M172.7 128.8h0M176.1 133.8h0M179.4 138.8h0M182.8 143.8h0M186.1 148.8h0M189.5 153.8h0M192.8 158.7h0M196.2 163.7h0M113.0 49.4h0M116.3 54.4h0M119.7 59.3h0M123.0 64.3h0M126.4 69.3h0M129.8 74.3h0M133.1 79.3h0M136.5 84.3h0M139.8 89.3h0M143.2 94.3h0M146.5 99.3h0M149.9 104.3h0M153.3 109.3h0M156.6 114.2h0M160.0 119.2h0M163.3 124.2h0M166.7 129.2h0M170.1 134.2h0M173.4 139.2h0M176.8 144.2h0M180.1 149.2h0M183.5 154.2h0M186.8 159.2h0M190.2 164.1h0M193.6 169.1h0M110.3 54.8h0M113.7 59.8h0M117.0 64.8h0M120.4 69.7h0M123.8 74.7h0M127.1 79.7h0M130.5 84.7h0M133.8 89.7h0M137.2 94.7h0M140.5 99.7h0M143.9 104.7h0M147.3 109.7h0M150.6 114.7h0M154.0 119.6h0M157.3 124.6h0M160.7 129.6h0M164.1 134.6h0M167.4 139.6h0M170.8 144.6h0M174.1 149.6h0M177.5 154.6h0M180.8 159.6h0M184.2 164.6h0M187.6 169.6h0M104.3 55.2h0M107.7 60.2h0M111.0 65.2h0M114.4 70.2h0M117.8 75.1h0M121.1 80.1h0M124.5 85.1h0M127.8 90.1h0M131.2 95.1h0M134.5 100.1h0M137.9 105.1h0M141.3 110.1h0M144.6 115.1h0M148.0 120.1h0M151.3 125.1h0M154.7 130.0h0M158.0 135.0h0M161.4 140.0h0M164.8 145.0h0M168.1 150.0h0M171.5 155.0h0M174.8 160.0h0M178.2 165.0h0M181.6 170.0h0M184.9 175.0h0M101.7 60.6h0M105.0 65.6h0M108.4 70.6h0M111.8 75.6h0M115.1 80.5h0M118.5 85.5h0M121.8 90.5h0M125.2 95.5h0M128.5 100.5h0M131.9 105.5h0M135.3 110.5h0M138.6 115.5h0M142.0 120.5h0M145.3 125.5h0M148.7 130.5h0M152.0 135.4h0M155.4 140.4h0M158.8 145.4h0M162.1 150.4h0M165.5 155.4h0M168.8 160.4h0M172.2 165.4h0M175.6 170.4h0M178.9 175.4h0M95.7 61.0h0M99.0 66.0h0M102.4 71.0h0M105.8 76.0h0M109.1 81.0h0M112.5 86.0h0M115.8 90.9h0M119.2 95.9h0M122.5 100.9h0M125.9 105.9h0M129.3 110.9h0M132.6 115.9h0M136.0 120.9h0M139.3 125.9h0M142.7 130.9h0M146.0 135.9h0M149.4 140.8h0M152.8 145.8h0M156.1 150.8h0M159.5 155.8h0M162.8 160.8h0M166.2 165.8h0M169.6 170.8h0M172.9 175.8h0M176.3 180.8h0M93.0 66.4h0M96.4 71.4h0M99.8 76.4h0M103.1 81.4h0M106.5 86.4h0M109.8 91.4h0M113.2 96.3h0M116.5 101.3h0M119.9 106.3h0M123.3 111.3h0M126.6 116.3h0M130.0 121.3h0M133.3 126.3h0M136.7 131.3h0M140.0 136.3h0M143.4 141.3h0M146.8 146.3h0M150.1 151.2h0M153.5 156.2h0M156.8 161.2h0M160.2 166.2h0M163.6 171.2h0M166.9 176.2h0M170.3 181.2h0M87.0 66.8h0M90.4 71.8h0M93.8 76.8h0M97.1 81.8h0M100.5 86.8h0M103.8 91.8h0M107.2 96.8h0M110.5 101.7h0M113.9 106.7h0M117.3 111.7h0M120.6 116.7h0M124.0 121.7h0M127.3 126.7h0M130.7 131.7h0M134.0 136.7h0M137.4 141.7h0M140.8 146.7h0M144.1 151.7h0M147.5 156.6h0M150.8 161.6h0M154.2 166.6h0M157.6 171.6h0M160.9 176.6h0M164.3 181.6h0M167.6 186.6h0M84.4 72.2h0M87.8 77.2h0M91.1 82.2h0M94.5 87.2h0M97.8 92.2h0M101.2 97.2h0M104.5 102.2h0M107.9 107.2h0M111.3 112.1h0M114.6 117.1h0M118.0 122.1h0M121.3 127.1h0M124.7 132.1h0M128.0 137.1h0M131.4 142.1h0M134.8 147.1h0M138.1 152.1h0M141.5 157.1h0M144.8 162.0h0M148.2 167.0h0M151.5 172.0h0M154.9 177.0h0M158.3 182.0h0M161.6 187.0h0M78.4 72.6h0M81.8 77.6h0M85.1 82.6h0M88.5 87.6h0M91.8 92.6h0M95.2 97.6h0M98.5 102.6h0M101.9 107.6h0M105.3 112.6h0M108.6 117.5h0M112.0 122.5h0M115.3 127.5h0M118.7 132.5h0M122.0 137.5h0M125.4 142.5h0M128.8 147.5h0M132.1 152.5h0M135.5 157.5h0M138.8 162.5h0M142.2 167.5h0M145.5 172.4h0M148.9 177.4h0M152.3 182.4h0M155.6 187.4h0M159.0 192.4h0M75.7 78.0h0M79.1 83.0h0M82.5 88.0h0M85.8 93.0h0M89.2 98.0h0M92.5 103.0h0M95.9 108.0h0M99.3 113.0h0M102.6 118.0h0M106.0 122.9h0M109.3 127.9h0M112.7 132.9h0M116.0 137.9h0M119.4 142.9h0M122.8 147.9h0M126.1 152.9h0M129.5 157.9h0M132.8 162.9h0M136.2 167.9h0M139.5 172.9h0M142.9 177.8h0M146.3 182.8h0M149.6 187.8h0M153.0 192.8h0M69.7 78.4h0M73.1 83.4h0M76.5 88.4h0M79.8 93.4h0M83.2 98.4h0M86.5 103.4h0M89.9 108.4h0M93.3 113.4h0M96.6 118.4h0M100.0 123.4h0M103.3 128.4h0M106.7 133.3h0M110.0 138.3h0M113.4 143.3h0M116.8 148.3h0M120.1 153.3h0M123.5 158.3h0M126.8 163.3h0M130.2 168.3h0M133.5 173.3h0M136.9 178.3h0M140.3 183.2h0M143.6 188.2h0M147.0 193.2h0M150.3 198.2h0M67.1 83.9h0M70.5 88.8h0M73.8 93.8h0M77.2 98.8h0M80.5 103.8h0M83.9 108.8h0M87.3 113.8h0M90.6 118.8h0M94.0 123.8h0M97.3 128.8h0M100.7 133.8h0M104.0 138.7h0M107.4 143.7h0M110.8 148.7h0M114.1 153.7h0M117.5 158.7h0M120.8 163.7h0M124.2 168.7h0M127.5 173.7h0M130.9 178.7h0M134.3 183.7h0M137.6 188.7h0M141.0 193.6h0M144.3 198.6h0M61.1 84.3h0M64.5 89.3h0M67.8 94.2h0M71.2 99.2h0M74.5 104.2h0M77.9 109.2h0M81.3 114.2h0M84.6 119.2h0M88.0 124.2h0M91.3 129.2h0M94.7 134.2h0M98.0 139.2h0M101.4 144.1h0M104.8 149.1h0M108.1 154.1h0M111.5 159.1h0M114.8 164.1h0M118.2 169.1h0M121.5 174.1h0M124.9 179.1h0M128.3 184.1h0M131.6 189.1h0M135.0 194.1h0M138.3 199.0h0M141.7 204.0h0M58.5 89.7h0M61.8 94.7h0M65.2 99.6h0M68.5 104.6h0M71.9 109.6h0M75.3 114.6h0M78.6 119.6h0M82.0 124.6h0M85.3 129.6h0M88.7 134.6h0M92.0 139.6h0M95.4 144.6h0M98.8 149.6h0M102.1 154.5h0M105.5 159.5h0M108.8 164.5h0M112.2 169.5h0M115.5 174.5h0M118.9 179.5h0M122.3 184.5h0M125.6 189.5h0M129.0 194.5h0M132.3 199.5h0M135.7 204.4h0M52.5 90.1h0M55.8 95.1h0M59.2 100.1h0M62.5 105.1h0M65.9 110.0h0M69.3 115.0h0M72.6 120.0h0M76.0 125.0h0M79.3 130.0h0M82.7 135.0h0M86.0 140.0h0M89.4 145.0h0M92.8 150.0h0M96.1 155.0h0M99.5 159.9h0M102.8 164.9h0M106.2 169.9h0M109.5 174.9h0M112.9 179.9h0M116.3 184.9h0M119.6 189.9h0M123.0 194.9h0M126.3 199.9h0M129.7 204.9h0M133.0 209.9h0M49.8 95.5h0M53.2 100.5h0M56.5 105.5h0M59.9 110.5h0M63.2 115.4h0M66.6 120.4h0M70.0 125.4h0M73.3 130.4h0M76.7 135.4h0M80.0 140.4h0M83.4 145.4h0M86.8 150.4h0M90.1 155.4h0M93.5 160.4h0M96.8 165.3h0M100.2 170.3h0M103.5 175.3h0M106.9 180.3h0M110.3 185.3h0M113.6 190.3h0M117.0 195.3h0M120.3 200.3h0M123.7 205.3h0M127.0 210.3h0M43.8 95.9h0M47.2 100.9h0M50.5 105.9h0M53.9 110.9h0M57.2 115.9h0M60.6 120.8h0M64.0 125.8h0M67.3 130.8h0M70.7 135.8h0M74.0 140.8h0M77.4 145.8h0M80.8 150.8h0M84.1 155.8h0M87.5 160.8h0M90.8 165.8h0M94.2 170.8h0M97.5 175.7h0M100.9 180.7h0M104.3 185.7h0M107.6 190.7h0M111.0 195.7h0M114.3 200.7h0M117.7 205.7h0M121.0 210.7h0M124.4 215.7h0M41.2 101.3h0M44.5 106.3h0M47.9 111.3h0M51.2 116.3h0M54.6 121.3h0M58.0 126.3h0M61.3 131.2h0M64.7 136.2h0M68.0 141.2h0M71.4 146.2h0M74.8 151.2h0M78.1 156.2h0M81.5 161.2h0M84.8 166.2h0M88.2 171.2h0M91.5 176.2h0M94.9 181.1h0M98.3 186.1h0M101.6 191.1h0M105.0 196.1h0M108.3 201.1h0M111.7 206.1h0M115.0 211.1h0M118.4 216.1h0M35.2 101.7h0M38.5 106.7h0M41.9 111.7h0M45.2 116.7h0M48.6 121.7h0M52.0 126.7h0M55.3 131.7h0M58.7 136.6h0M62.0 141.6h0M65.4 146.6h0M68.8 151.6h0M72.1 156.6h0M75.5 161.6h0M78.8 166.6h0M82.2 171.6h0M85.5 176.6h0M88.9 181.6h0M92.3 186.5h0M95.6 191.5h0M99.0 196.5h0M102.3 201.5h0M105.7 206.5h0M109.0 211.5h0M112.4 216.5h0M115.8 221.5h0M32.5 107.1h0M35.9 112.1h0M39.2 117.1h0M42.6 122.1h0M46.0 127.1h0M49.3 132.1h0M52.7 137.1h0M56.0 142.0h0M59.4 147.0h0M62.8 152.0h0M66.1 157.0h0M69.5 162.0h0M72.8 167.0h0M76.2 172.0h0M79.5 177.0h0M82.9 182.0h0M86.3 187.0h0M89.6 192.0h0M93.0 196.9h0M96.3 201.9h0M99.7 206.9h0M103.0 211.9h0M106.4 216.9h0M109.8 221.9h0M26.5 107.5h0M29.9 112.5h0M33.2 117.5h0M36.6 122.5h0M40.0 127.5h0M43.3 132.5h0M46.7 137.5h0M50.0 142.5h0M53.4 147.5h0M56.8 152.4h0M60.1 157.4h0M63.5 162.4h0M66.8 167.4h0M70.2 172.4h0M73.5 177.4h0M76.9 182.4h0M80.3 187.4h0M83.6 192.4h0M87.0 197.4h0M90.3 202.3h0M93.7 207.3h0M97.0 212.3h0M100.4 217.3h0M103.8 222.3h0M107.1 227.3h0M23.9 112.9h0M27.2 117.9h0M30.6 122.9h0M34.0 127.9h0M37.3 132.9h0M40.7 137.9h0M44.0 142.9h0M47.4 147.9h0M50.7 152.9h0M54.1 157.8h0M57.5 162.8h0M60.8 167.8h0M64.2 172.8h0M67.5 177.8h0M70.9 182.8h0M74.3 187.8h0M77.6 192.8h0M81.0 197.8h0M84.3 202.8h0M87.7 207.7h0M91.0 212.7h0M94.4 217.7h0M97.8 222.7h0M101.1 227.7h0" stroke="#000000" stroke-width="2.40" stroke-linecap="round" fill="none"/></g><g stroke="#333" stroke-width="0.8"><line x1="51.5" y1="58" x2="53.5" y2="59.5"/><line x1="49" y1="62.5" x2="51" y2="64"/><line x1="46.5" y1="67" x2="48.5" y2="68.5"/></g><line x1="156" y1="58" x2="240.5" y2="58" stroke="#f04848" stroke-width="0.7" marker-end="url(#arR)"/><line x1="157" y1="58" x2="223.5" y2="155" stroke="#d2602c" stroke-width="0.75" marker-end="url(#arO)"/><circle cx="105.6" cy="126.6" r="6" fill="none" stroke="#ff1a1a" stroke-width="1.4"/><circle cx="146.3" cy="103.2" r="6" fill="none" stroke="#ff1a1a" stroke-width="1.4"/><line x1="112.8" y1="122.2" x2="146.4" y2="102.9" stroke="#ff2a2a" stroke-width="0.7" marker-end="url(#arS)"/><text x="123.6" y="131.9" font-family="Liberation Sans" font-weight="bold" font-size="14" fill="#ff1a1a" stroke="#ff1a1a" stroke-width="0.5" textLength="50.5" lengthAdjust="spacing">2.6 nm</text><text x="207.6" y="98.5" font-family="Liberation Sans" font-size="16.2" fill="#111">56</text><path d="M204.8,96.2 Q206.5,95 208.8,95.6" stroke="#222" stroke-width="0.9" fill="none"/><circle cx="230.6" cy="84.6" r="1.55" fill="none" stroke="#222" stroke-width="0.8"/><circle cx="343.4" cy="27.9" r="5.1" fill="#22ee22"/><circle cx="344.0" cy="51" r="5.1" fill="#22ee22"/><circle cx="381.7" cy="27.9" r="5.1" fill="#22ee22"/><circle cx="382.3" cy="51" r="5.1" fill="#22ee22"/><circle cx="420.0" cy="27.9" r="5.1" fill="#22ee22"/><circle cx="420.6" cy="51" r="5.1" fill="#22ee22"/><circle cx="458.3" cy="27.9" r="5.1" fill="#22ee22"/><circle cx="458.9" cy="51" r="5.1" fill="#22ee22"/><circle cx="328.4" cy="38.8" r="2.35" fill="#000"/><circle cx="366.7" cy="38.8" r="2.35" fill="#000"/><circle cx="405.0" cy="38.8" r="2.35" fill="#000"/><circle cx="443.3" cy="38.8" r="2.35" fill="#000"/><circle cx="481.6" cy="38.8" r="2.35" fill="#000"/><circle cx="367.2" cy="69.9" r="5.2" fill="#c020b0"/><circle cx="367.7" cy="92.7" r="5.2" fill="#c020b0"/><circle cx="405.6" cy="69.9" r="5.2" fill="#c020b0"/><circle cx="406.1" cy="92.7" r="5.2" fill="#c020b0"/><circle cx="444.0" cy="69.9" r="5.2" fill="#c020b0"/><circle cx="444.5" cy="92.7" r="5.2" fill="#c020b0"/><circle cx="482.4" cy="69.9" r="5.2" fill="#c020b0"/><circle cx="482.9" cy="92.7" r="5.2" fill="#c020b0"/><circle cx="344.4" cy="82.6" r="2.5" fill="#2a22ee"/><circle cx="382.5" cy="82.6" r="2.5" fill="#2a22ee"/><circle cx="420.6" cy="82.6" r="2.5" fill="#2a22ee"/><circle cx="458.7" cy="82.6" r="2.5" fill="#2a22ee"/><circle cx="496.8" cy="82.6" r="2.5" fill="#2a22ee"/><line x1="315.2" y1="103.7" x2="315.2" y2="34" stroke="#888" stroke-width="1" marker-end="url(#arK)"/><line x1="315.2" y1="103.7" x2="510" y2="103.7" stroke="#555" stroke-width="1" marker-end="url(#arK)"/><text x="302.5" y="37.3" font-family="Liberation Sans" font-size="16.5" fill="#111">Z</text><text x="512.5" y="110.8" font-family="Liberation Sans" font-size="16.5" fill="#111">Y</text><path d="M498.62,32.52 L498.62,43.40 L497.25,43.40 L497.25,34.89 L496.58,35.50 L495.64,36.13 L494.26,36.77 L494.26,35.45 L495.34,34.86 L496.48,33.98 L497.16,33.19 L497.74,32.52Z" fill="#111"/><text x="501.1" y="38.3" font-family="Liberation Sans" font-size="9.6" fill="#111">st</text><text x="516.3" y="43.4" font-family="Liberation Sans" font-size="15.2" fill="#111">L</text><text x="503" y="87.5" font-family="Liberation Sans" font-size="14.5" fill="#111">2<tspan font-size="9" dy="-6">nd</tspan><tspan dy="6" dx="5.1">L</tspan></text><circle cx="326.6" cy="140.8" r="5.1" fill="#22ee22"/><circle cx="326.6" cy="162.8" r="5.1" fill="#c020b0"/><circle cx="326.6" cy="182.4" r="2.2" fill="#000"/><circle cx="326.6" cy="198.3" r="2" fill="#2a22ee"/><text x="337.3" y="149.1" font-family="Liberation Sans" font-weight="bold" fill="#111" stroke="#111" stroke-width="0.45" font-size="16.3">X</text><path d="M353.45,144.91 L353.45,153.50 L351.59,153.50 L351.59,147.74 L350.57,148.46 L349.13,149.06 L349.13,147.50 L350.45,146.78 L351.41,145.94 L352.01,144.91Z" fill="#111" stroke="#111" stroke-width="0.35"/><text x="337.3" y="170.1" font-family="Liberation Sans" font-weight="bold" fill="#111" stroke="#111" stroke-width="0.45" font-size="16.3">X<tspan font-size="12" dy="4.4">2</tspan></text><text x="337.3" y="188.2" font-family="Liberation Sans" font-weight="bold" fill="#111" stroke="#111" stroke-width="0.45" font-size="16.3">M</text><path d="M356.16,184.01 L356.16,192.60 L354.30,192.60 L354.30,186.84 L353.28,187.56 L351.84,188.16 L351.84,186.60 L353.16,185.88 L354.12,185.04 L354.72,184.01Z" fill="#111" stroke="#111" stroke-width="0.35"/><text x="337.3" y="209.7" font-family="Liberation Sans" font-weight="bold" fill="#111" stroke="#111" stroke-width="0.45" font-size="16.3">M<tspan font-size="12" dy="4.4">2</tspan></text><polygon points="429.9,147.4 450.5,160.7 449.1,180.5 430.1,194.6 411.2,180.5 412,160.1" fill="none" stroke="#b8b8f0" stroke-width="1"/><circle cx="429.9" cy="147.4" r="5.4" fill="#a020a0"/><circle cx="429.9" cy="147.4" r="1.9" fill="#000"/><circle cx="450.5" cy="160.7" r="5.4" fill="#66ee66"/><circle cx="450.5" cy="160.7" r="3.5" fill="#33cc33"/><circle cx="450.5" cy="160.7" r="1.6" fill="#229922"/><circle cx="449.1" cy="180.5" r="5.4" fill="#a020a0"/><circle cx="449.1" cy="180.5" r="1.9" fill="#000"/><circle cx="430.1" cy="194.6" r="5.4" fill="#66ee66"/><circle cx="430.1" cy="194.6" r="3.5" fill="#33cc33"/><circle cx="430.1" cy="194.6" r="1.6" fill="#229922"/><circle cx="411.2" cy="180.5" r="5.4" fill="#a020a0"/><circle cx="411.2" cy="180.5" r="1.9" fill="#000"/><circle cx="412" cy="160.1" r="5.4" fill="#66ee66"/><circle cx="412" cy="160.1" r="3.5" fill="#33cc33"/><circle cx="412" cy="160.1" r="1.6" fill="#229922"/><line x1="398.4" y1="204.3" x2="398.4" y2="133.5" stroke="#555" stroke-width="1" marker-end="url(#arK)"/><line x1="398.4" y1="204.3" x2="470" y2="204.3" stroke="#555" stroke-width="1" marker-end="url(#arK)"/><text x="392.5" y="129.5" font-family="Liberation Sans" font-size="16.5" fill="#111">Y</text><text x="471.5" y="210" font-family="Liberation Sans" font-size="16.5" fill="#111">X</text><text x="4" y="12.5" font-family="Liberation Sans" font-size="17" fill="#111">a)</text><text x="279" y="16.5" font-family="Liberation Sans" font-size="17" fill="#111">b)</text><text x="0.8" y="225" font-family="Liberation Sans" font-size="17" fill="#111">c)</text><text x="278.3" y="221.5" font-family="Liberation Sans" font-size="17" fill="#111">d)</text><defs><radialGradient id="gb1"><stop offset="0" stop-color="#c0c0c0" stop-opacity="0.66"/><stop offset="0.55" stop-color="#b0b0b0" stop-opacity="0.33"/><stop offset="1" stop-color="#909090" stop-opacity="0"/></radialGradient><radialGradient id="gb2"><stop offset="0" stop-color="#a0a0a0" stop-opacity="0.6"/><stop offset="0.6" stop-color="#909090" stop-opacity="0.28"/><stop offset="1" stop-color="#808080" stop-opacity="0"/></radialGradient><pattern id="fine" patternUnits="userSpaceOnUse" width="1.93" height="3.1"><rect width="1.93" height="3.1" fill="#262626"/><circle cx="0.48" cy="0.78" r="0.62" fill="#fff"/><circle cx="1.45" cy="2.33" r="0.62" fill="#fff"/></pattern><mask id="mk1" maskUnits="userSpaceOnUse" x="0" y="240" width="260" height="130"><rect x="0" y="240" width="260" height="130" fill="url(#fine)"/></mask><clipPath id="ci1"><rect x="5" y="243" width="119" height="121"/></clipPath><clipPath id="ci2"><rect x="130.3" y="243.3" width="118.5" height="121.5"/></clipPath></defs><rect x="5" y="243" width="119" height="121" fill="#141414"/><rect x="130.3" y="243.3" width="118.5" height="121.5" fill="#050505"/><g clip-path="url(#ci1)"><g mask="url(#mk1)"><circle cx="3.6" cy="249.7" r="7.8" fill="url(#gb1)"/><circle cx="3.6" cy="265.5" r="7.8" fill="url(#gb1)"/><circle cx="3.6" cy="281.3" r="7.8" fill="url(#gb1)"/><circle cx="3.6" cy="297.1" r="7.8" fill="url(#gb1)"/><circle cx="3.6" cy="312.9" r="7.8" fill="url(#gb1)"/><circle cx="3.6" cy="328.7" r="7.8" fill="url(#gb1)"/><circle cx="3.6" cy="344.5" r="7.8" fill="url(#gb1)"/><circle cx="3.6" cy="360.3" r="7.8" fill="url(#gb1)"/><circle cx="17.0" cy="241.8" r="7.8" fill="url(#gb1)"/><circle cx="17.0" cy="257.6" r="7.8" fill="url(#gb1)"/><circle cx="17.0" cy="273.4" r="7.8" fill="url(#gb1)"/><circle cx="17.0" cy="289.2" r="7.8" fill="url(#gb1)"/><circle cx="17.0" cy="305.0" r="7.8" fill="url(#gb1)"/><circle cx="17.0" cy="320.8" r="7.8" fill="url(#gb1)"/><circle cx="17.0" cy="336.6" r="7.8" fill="url(#gb1)"/><circle cx="17.0" cy="352.4" r="7.8" fill="url(#gb1)"/><circle cx="17.0" cy="368.2" r="7.8" fill="url(#gb1)"/><circle cx="30.4" cy="249.7" r="7.8" fill="url(#gb1)"/><circle cx="30.4" cy="265.5" r="7.8" fill="url(#gb1)"/><circle cx="30.4" cy="281.3" r="7.8" fill="url(#gb1)"/><circle cx="30.4" cy="297.1" r="7.8" fill="url(#gb1)"/><circle cx="30.4" cy="312.9" r="7.8" fill="url(#gb1)"/><circle cx="30.4" cy="328.7" r="7.8" fill="url(#gb1)"/><circle cx="30.4" cy="344.5" r="7.8" fill="url(#gb1)"/><circle cx="30.4" cy="360.3" r="7.8" fill="url(#gb1)"/><circle cx="43.8" cy="241.8" r="7.8" fill="url(#gb1)"/><circle cx="43.8" cy="257.6" r="7.8" fill="url(#gb1)"/><circle cx="43.8" cy="273.4" r="7.8" fill="url(#gb1)"/><circle cx="43.8" cy="289.2" r="7.8" fill="url(#gb1)"/><circle cx="43.8" cy="305.0" r="7.8" fill="url(#gb1)"/><circle cx="43.8" cy="320.8" r="7.8" fill="url(#gb1)"/><circle cx="43.8" cy="336.6" r="7.8" fill="url(#gb1)"/><circle cx="43.8" cy="352.4" r="7.8" fill="url(#gb1)"/><circle cx="43.8" cy="368.2" r="7.8" fill="url(#gb1)"/><circle cx="57.2" cy="249.7" r="7.8" fill="url(#gb1)"/><circle cx="57.2" cy="265.5" r="7.8" fill="url(#gb1)"/><circle cx="57.2" cy="281.3" r="7.8" fill="url(#gb1)"/><circle cx="57.2" cy="297.1" r="7.8" fill="url(#gb1)"/><circle cx="57.2" cy="312.9" r="7.8" fill="url(#gb1)"/><circle cx="57.2" cy="328.7" r="7.8" fill="url(#gb1)"/><circle cx="57.2" cy="344.5" r="7.8" fill="url(#gb1)"/><circle cx="57.2" cy="360.3" r="7.8" fill="url(#gb1)"/><circle cx="70.6" cy="241.8" r="7.8" fill="url(#gb1)"/><circle cx="70.6" cy="257.6" r="7.8" fill="url(#gb1)"/><circle cx="70.6" cy="273.4" r="7.8" fill="url(#gb1)"/><circle cx="70.6" cy="289.2" r="7.8" fill="url(#gb1)"/><circle cx="70.6" cy="305.0" r="7.8" fill="url(#gb1)"/><circle cx="70.6" cy="320.8" r="7.8" fill="url(#gb1)"/><circle cx="70.6" cy="336.6" r="7.8" fill="url(#gb1)"/><circle cx="70.6" cy="352.4" r="7.8" fill="url(#gb1)"/><circle cx="70.6" cy="368.2" r="7.8" fill="url(#gb1)"/><circle cx="84.0" cy="249.7" r="7.8" fill="url(#gb1)"/><circle cx="84.0" cy="265.5" r="7.8" fill="url(#gb1)"/><circle cx="84.0" cy="281.3" r="7.8" fill="url(#gb1)"/><circle cx="84.0" cy="297.1" r="7.8" fill="url(#gb1)"/><circle cx="84.0" cy="312.9" r="7.8" fill="url(#gb1)"/><circle cx="84.0" cy="328.7" r="7.8" fill="url(#gb1)"/><circle cx="84.0" cy="344.5" r="7.8" fill="url(#gb1)"/><circle cx="84.0" cy="360.3" r="7.8" fill="url(#gb1)"/><circle cx="97.4" cy="241.8" r="7.8" fill="url(#gb1)"/><circle cx="97.4" cy="257.6" r="7.8" fill="url(#gb1)"/><circle cx="97.4" cy="273.4" r="7.8" fill="url(#gb1)"/><circle cx="97.4" cy="289.2" r="7.8" fill="url(#gb1)"/><circle cx="97.4" cy="305.0" r="7.8" fill="url(#gb1)"/><circle cx="97.4" cy="320.8" r="7.8" fill="url(#gb1)"/><circle cx="97.4" cy="336.6" r="7.8" fill="url(#gb1)"/><circle cx="97.4" cy="352.4" r="7.8" fill="url(#gb1)"/><circle cx="97.4" cy="368.2" r="7.8" fill="url(#gb1)"/><circle cx="110.8" cy="249.7" r="7.8" fill="url(#gb1)"/><circle cx="110.8" cy="265.5" r="7.8" fill="url(#gb1)"/><circle cx="110.8" cy="281.3" r="7.8" fill="url(#gb1)"/><circle cx="110.8" cy="297.1" r="7.8" fill="url(#gb1)"/><circle cx="110.8" cy="312.9" r="7.8" fill="url(#gb1)"/><circle cx="110.8" cy="328.7" r="7.8" fill="url(#gb1)"/><circle cx="110.8" cy="344.5" r="7.8" fill="url(#gb1)"/><circle cx="110.8" cy="360.3" r="7.8" fill="url(#gb1)"/><circle cx="124.2" cy="241.8" r="7.8" fill="url(#gb1)"/><circle cx="124.2" cy="257.6" r="7.8" fill="url(#gb1)"/><circle cx="124.2" cy="273.4" r="7.8" fill="url(#gb1)"/><circle cx="124.2" cy="289.2" r="7.8" fill="url(#gb1)"/><circle cx="124.2" cy="305.0" r="7.8" fill="url(#gb1)"/><circle cx="124.2" cy="320.8" r="7.8" fill="url(#gb1)"/><circle cx="124.2" cy="336.6" r="7.8" fill="url(#gb1)"/><circle cx="124.2" cy="352.4" r="7.8" fill="url(#gb1)"/><circle cx="124.2" cy="368.2" r="7.8" fill="url(#gb1)"/></g></g><g clip-path="url(#ci2)"><g mask="url(#mk1)"><circle cx="130.6" cy="250.1" r="4.9" fill="url(#gb2)"/><circle cx="130.6" cy="266.1" r="4.9" fill="url(#gb2)"/><circle cx="130.6" cy="281.9" r="4.9" fill="url(#gb2)"/><circle cx="130.6" cy="297.8" r="4.9" fill="url(#gb2)"/><circle cx="130.6" cy="313.8" r="4.9" fill="url(#gb2)"/><circle cx="130.6" cy="329.6" r="4.9" fill="url(#gb2)"/><circle cx="130.6" cy="345.6" r="4.9" fill="url(#gb2)"/><circle cx="130.6" cy="361.4" r="4.9" fill="url(#gb2)"/><circle cx="144.0" cy="242.2" r="4.9" fill="url(#gb2)"/><circle cx="144.0" cy="258.1" r="4.9" fill="url(#gb2)"/><circle cx="144.0" cy="274.0" r="4.9" fill="url(#gb2)"/><circle cx="144.0" cy="289.9" r="4.9" fill="url(#gb2)"/><circle cx="144.0" cy="305.8" r="4.9" fill="url(#gb2)"/><circle cx="144.0" cy="321.7" r="4.9" fill="url(#gb2)"/><circle cx="144.0" cy="337.6" r="4.9" fill="url(#gb2)"/><circle cx="144.0" cy="353.5" r="4.9" fill="url(#gb2)"/><circle cx="144.0" cy="369.4" r="4.9" fill="url(#gb2)"/><circle cx="157.4" cy="250.1" r="4.9" fill="url(#gb2)"/><circle cx="157.4" cy="266.1" r="4.9" fill="url(#gb2)"/><circle cx="157.4" cy="281.9" r="4.9" fill="url(#gb2)"/><circle cx="157.4" cy="297.8" r="4.9" fill="url(#gb2)"/><circle cx="157.4" cy="313.8" r="4.9" fill="url(#gb2)"/><circle cx="157.4" cy="329.6" r="4.9" fill="url(#gb2)"/><circle cx="157.4" cy="345.6" r="4.9" fill="url(#gb2)"/><circle cx="157.4" cy="361.4" r="4.9" fill="url(#gb2)"/><circle cx="170.9" cy="242.2" r="4.9" fill="url(#gb2)"/><circle cx="170.9" cy="258.1" r="4.9" fill="url(#gb2)"/><circle cx="170.9" cy="274.0" r="4.9" fill="url(#gb2)"/><circle cx="170.9" cy="289.9" r="4.9" fill="url(#gb2)"/><circle cx="170.9" cy="305.8" r="4.9" fill="url(#gb2)"/><circle cx="170.9" cy="321.7" r="4.9" fill="url(#gb2)"/><circle cx="170.9" cy="337.6" r="4.9" fill="url(#gb2)"/><circle cx="170.9" cy="353.5" r="4.9" fill="url(#gb2)"/><circle cx="170.9" cy="369.4" r="4.9" fill="url(#gb2)"/><circle cx="184.3" cy="250.1" r="4.9" fill="url(#gb2)"/><circle cx="184.3" cy="266.1" r="4.9" fill="url(#gb2)"/><circle cx="184.3" cy="281.9" r="4.9" fill="url(#gb2)"/><circle cx="184.3" cy="297.8" r="4.9" fill="url(#gb2)"/><circle cx="184.3" cy="313.8" r="4.9" fill="url(#gb2)"/><circle cx="184.3" cy="329.6" r="4.9" fill="url(#gb2)"/><circle cx="184.3" cy="345.6" r="4.9" fill="url(#gb2)"/><circle cx="184.3" cy="361.4" r="4.9" fill="url(#gb2)"/><circle cx="197.8" cy="242.2" r="4.9" fill="url(#gb2)"/><circle cx="197.8" cy="258.1" r="4.9" fill="url(#gb2)"/><circle cx="197.8" cy="274.0" r="4.9" fill="url(#gb2)"/><circle cx="197.8" cy="289.9" r="4.9" fill="url(#gb2)"/><circle cx="197.8" cy="305.8" r="4.9" fill="url(#gb2)"/><circle cx="197.8" cy="321.7" r="4.9" fill="url(#gb2)"/><circle cx="197.8" cy="337.6" r="4.9" fill="url(#gb2)"/><circle cx="197.8" cy="353.5" r="4.9" fill="url(#gb2)"/><circle cx="197.8" cy="369.4" r="4.9" fill="url(#gb2)"/><circle cx="211.2" cy="250.1" r="4.9" fill="url(#gb2)"/><circle cx="211.2" cy="266.1" r="4.9" fill="url(#gb2)"/><circle cx="211.2" cy="281.9" r="4.9" fill="url(#gb2)"/><circle cx="211.2" cy="297.8" r="4.9" fill="url(#gb2)"/><circle cx="211.2" cy="313.8" r="4.9" fill="url(#gb2)"/><circle cx="211.2" cy="329.6" r="4.9" fill="url(#gb2)"/><circle cx="211.2" cy="345.6" r="4.9" fill="url(#gb2)"/><circle cx="211.2" cy="361.4" r="4.9" fill="url(#gb2)"/><circle cx="224.7" cy="242.2" r="4.9" fill="url(#gb2)"/><circle cx="224.7" cy="258.1" r="4.9" fill="url(#gb2)"/><circle cx="224.7" cy="274.0" r="4.9" fill="url(#gb2)"/><circle cx="224.7" cy="289.9" r="4.9" fill="url(#gb2)"/><circle cx="224.7" cy="305.8" r="4.9" fill="url(#gb2)"/><circle cx="224.7" cy="321.7" r="4.9" fill="url(#gb2)"/><circle cx="224.7" cy="337.6" r="4.9" fill="url(#gb2)"/><circle cx="224.7" cy="353.5" r="4.9" fill="url(#gb2)"/><circle cx="224.7" cy="369.4" r="4.9" fill="url(#gb2)"/><circle cx="238.1" cy="250.1" r="4.9" fill="url(#gb2)"/><circle cx="238.1" cy="266.1" r="4.9" fill="url(#gb2)"/><circle cx="238.1" cy="281.9" r="4.9" fill="url(#gb2)"/><circle cx="238.1" cy="297.8" r="4.9" fill="url(#gb2)"/><circle cx="238.1" cy="313.8" r="4.9" fill="url(#gb2)"/><circle cx="238.1" cy="329.6" r="4.9" fill="url(#gb2)"/><circle cx="238.1" cy="345.6" r="4.9" fill="url(#gb2)"/><circle cx="238.1" cy="361.4" r="4.9" fill="url(#gb2)"/><circle cx="251.6" cy="242.2" r="4.9" fill="url(#gb2)"/><circle cx="251.6" cy="258.1" r="4.9" fill="url(#gb2)"/><circle cx="251.6" cy="274.0" r="4.9" fill="url(#gb2)"/><circle cx="251.6" cy="289.9" r="4.9" fill="url(#gb2)"/><circle cx="251.6" cy="305.8" r="4.9" fill="url(#gb2)"/><circle cx="251.6" cy="321.7" r="4.9" fill="url(#gb2)"/><circle cx="251.6" cy="337.6" r="4.9" fill="url(#gb2)"/><circle cx="251.6" cy="353.5" r="4.9" fill="url(#gb2)"/><circle cx="251.6" cy="369.4" r="4.9" fill="url(#gb2)"/></g></g><text x="8" y="258.9" font-family="Liberation Sans" fill="#f4f4f4" font-size="15.4">56.</text><path d="M34.30,247.87 L34.30,258.90 L32.91,258.90 L32.91,250.28 L32.23,250.89 L31.28,251.54 L29.88,252.19 L29.88,250.85 L30.97,250.25 L32.13,249.35 L32.82,248.55 L33.41,247.87Z" fill="#f4f4f4"/><text x="38.9" y="250.4" font-family="Liberation Sans" fill="#f4f4f4" font-size="5.6">o</text><text x="156.1" y="260.8" font-family="Liberation Sans" fill="#f4f4f4" font-size="14.3">cut-off = 0.6</text><text x="57" y="359.2" font-family="Liberation Sans" fill="#f4f4f4" font-size="14.6">20x20nm</text><text x="180.5" y="360" font-family="Liberation Sans" fill="#f4f4f4" font-size="14.6">20x20nm</text><g><rect x="289.8" y="242.5" width="146.8" height="123" fill="none" stroke="#6a6a6a" stroke-width="1.1"/><g stroke="#6a6a6a" stroke-width="0.8"><line x1="288.2" y1="251.3" x2="289.8" y2="251.3"/><line x1="288.2" y1="260.1" x2="289.8" y2="260.1"/><line x1="288.2" y1="268.9" x2="289.8" y2="268.9"/><line x1="288.2" y1="277.6" x2="289.8" y2="277.6"/><line x1="288.2" y1="286.4" x2="289.8" y2="286.4"/><line x1="288.2" y1="295.2" x2="289.8" y2="295.2"/><line x1="288.2" y1="304.0" x2="289.8" y2="304.0"/><line x1="288.2" y1="312.8" x2="289.8" y2="312.8"/><line x1="288.2" y1="321.6" x2="289.8" y2="321.6"/><line x1="288.2" y1="330.4" x2="289.8" y2="330.4"/><line x1="288.2" y1="339.1" x2="289.8" y2="339.1"/><line x1="288.2" y1="347.9" x2="289.8" y2="347.9"/><line x1="288.2" y1="356.7" x2="289.8" y2="356.7"/><line x1="289.8" y1="365.5" x2="289.8" y2="367.2"/><line x1="302.0" y1="365.5" x2="302.0" y2="366.6"/><line x1="314.2" y1="365.5" x2="314.2" y2="367.2"/><line x1="326.5" y1="365.5" x2="326.5" y2="366.6"/><line x1="338.7" y1="365.5" x2="338.7" y2="367.2"/><line x1="350.9" y1="365.5" x2="350.9" y2="366.6"/><line x1="363.1" y1="365.5" x2="363.1" y2="367.2"/><line x1="375.4" y1="365.5" x2="375.4" y2="366.6"/><line x1="387.6" y1="365.5" x2="387.6" y2="367.2"/><line x1="399.8" y1="365.5" x2="399.8" y2="366.6"/><line x1="412.1" y1="365.5" x2="412.1" y2="367.2"/><line x1="424.3" y1="365.5" x2="424.3" y2="366.6"/><line x1="436.5" y1="365.5" x2="436.5" y2="367.2"/></g><path d="M290.2,309.5 L291.3,310.1 L292.6,312.4 L293.7,313.3 L294.9,322.7 L296.2,302.5 L297.6,304.3 L298.5,313.3 L299.8,304.3 L301.3,252.5 L302.2,307.9 L303.1,307.0 L304.5,311.9 L305.8,303.4 L307.0,305.2 L308.1,314.8 L309.4,304.3 L310.3,313.7 L311.7,306.1 L313.0,308.8 L314.4,301.1 L315.7,308.8 L317.1,309.4 L318.4,309.4 L319.7,309.4 L321.1,312.6 L322.4,302.5 L323.5,303.4 L324.7,286.6 L326.2,270.9 L327.4,293.5 L328.7,298.0 L329.8,311.2 L331.0,307.9 L332.3,301.1 L333.4,308.3 L334.7,306.7 L335.9,301.6 L337.4,303.0 L338.5,298.5 L339.7,313.3 L341.0,307.0 L342.4,304.0 L343.7,307.0 L344.6,303.4 L346.0,285.9 L346.8,307.9 L348.2,295.6 L349.3,305.0 L350.4,300.7 L351.8,299.3 L353.3,299.8 L354.5,304.0 L356.3,302.5 L357.2,307.0 L357.9,350.8 L360.0,307.0 L361.3,307.9 L364.4,310.1 L365.7,312.4 L366.8,313.3 L368.0,322.7 L369.3,302.5 L370.7,304.3 L371.6,313.3 L372.9,304.3 L374.4,252.5 L375.3,307.9 L376.2,307.0 L377.6,311.9 L378.9,303.4 L380.1,305.2 L381.2,314.8 L382.5,304.3 L383.4,313.7 L384.8,306.1 L386.1,308.8 L387.5,301.1 L388.8,308.8 L390.2,309.4 L391.5,309.4 L392.8,309.4 L394.2,312.6 L395.5,302.5 L396.6,303.4 L397.8,286.6 L399.3,270.9 L400.5,293.5 L401.8,298.0 L402.9,311.2 L404.1,307.9 L405.4,301.1 L406.5,308.3 L407.8,306.7 L409.0,301.6 L410.5,303.0 L411.6,298.5 L412.8,313.3 L414.1,307.0 L415.5,304.0 L416.8,307.0 L417.7,303.4 L419.1,285.9 L419.9,307.9 L421.3,295.6 L422.4,305.0 L423.5,300.7 L424.9,299.3 L426.4,299.8 L427.6,304.0 L429.4,302.5 L430.3,307.0 L431.0,350.8 L433.1,307.0 L434.4,307.9 L436.2,295.6" fill="none" stroke="#555" stroke-width="0.8"/><circle cx="290.2" cy="309.5" r="1.35" fill="#111"/><circle cx="291.3" cy="310.1" r="1.35" fill="#111"/><circle cx="292.6" cy="312.4" r="1.35" fill="#111"/><circle cx="293.7" cy="313.3" r="1.35" fill="#111"/><circle cx="294.9" cy="322.7" r="1.35" fill="#111"/><circle cx="296.2" cy="302.5" r="1.35" fill="#111"/><circle cx="297.6" cy="304.3" r="1.35" fill="#111"/><circle cx="298.5" cy="313.3" r="1.35" fill="#111"/><circle cx="299.8" cy="304.3" r="1.35" fill="#111"/><circle cx="301.3" cy="252.5" r="1.35" fill="#111"/><circle cx="302.2" cy="307.9" r="1.35" fill="#111"/><circle cx="303.1" cy="307.0" r="1.35" fill="#111"/><circle cx="304.5" cy="311.9" r="1.35" fill="#111"/><circle cx="305.8" cy="303.4" r="1.35" fill="#111"/><circle cx="307.0" cy="305.2" r="1.35" fill="#111"/><circle cx="308.1" cy="314.8" r="1.35" fill="#111"/><circle cx="309.4" cy="304.3" r="1.35" fill="#111"/><circle cx="310.3" cy="313.7" r="1.35" fill="#111"/><circle cx="311.7" cy="306.1" r="1.35" fill="#111"/><circle cx="313.0" cy="308.8" r="1.35" fill="#111"/><circle cx="314.4" cy="301.1" r="1.35" fill="#111"/><circle cx="315.7" cy="308.8" r="1.35" fill="#111"/><circle cx="317.1" cy="309.4" r="1.35" fill="#111"/><circle cx="318.4" cy="309.4" r="1.35" fill="#111"/><circle cx="319.7" cy="309.4" r="1.35" fill="#111"/><circle cx="321.1" cy="312.6" r="1.35" fill="#111"/><circle cx="322.4" cy="302.5" r="1.35" fill="#111"/><circle cx="323.5" cy="303.4" r="1.35" fill="#111"/><circle cx="324.7" cy="286.6" r="1.35" fill="#111"/><circle cx="326.2" cy="270.9" r="1.35" fill="#111"/><circle cx="327.4" cy="293.5" r="1.35" fill="#111"/><circle cx="328.7" cy="298.0" r="1.35" fill="#111"/><circle cx="329.8" cy="311.2" r="1.35" fill="#111"/><circle cx="331.0" cy="307.9" r="1.35" fill="#111"/><circle cx="332.3" cy="301.1" r="1.35" fill="#111"/><circle cx="333.4" cy="308.3" r="1.35" fill="#111"/><circle cx="334.7" cy="306.7" r="1.35" fill="#111"/><circle cx="335.9" cy="301.6" r="1.35" fill="#111"/><circle cx="337.4" cy="303.0" r="1.35" fill="#111"/><circle cx="338.5" cy="298.5" r="1.35" fill="#111"/><circle cx="339.7" cy="313.3" r="1.35" fill="#111"/><circle cx="341.0" cy="307.0" r="1.35" fill="#111"/><circle cx="342.4" cy="304.0" r="1.35" fill="#111"/><circle cx="343.7" cy="307.0" r="1.35" fill="#111"/><circle cx="344.6" cy="303.4" r="1.35" fill="#111"/><circle cx="346.0" cy="285.9" r="1.35" fill="#111"/><circle cx="346.8" cy="307.9" r="1.35" fill="#111"/><circle cx="348.2" cy="295.6" r="1.35" fill="#111"/><circle cx="349.3" cy="305.0" r="1.35" fill="#111"/><circle cx="350.4" cy="300.7" r="1.35" fill="#111"/><circle cx="351.8" cy="299.3" r="1.35" fill="#111"/><circle cx="353.3" cy="299.8" r="1.35" fill="#111"/><circle cx="354.5" cy="304.0" r="1.35" fill="#111"/><circle cx="356.3" cy="302.5" r="1.35" fill="#111"/><circle cx="357.2" cy="307.0" r="1.35" fill="#111"/><circle cx="357.9" cy="350.8" r="1.35" fill="#111"/><circle cx="360.0" cy="307.0" r="1.35" fill="#111"/><circle cx="361.3" cy="307.9" r="1.35" fill="#111"/><circle cx="364.4" cy="310.1" r="1.35" fill="#111"/><circle cx="365.7" cy="312.4" r="1.35" fill="#111"/><circle cx="366.8" cy="313.3" r="1.35" fill="#111"/><circle cx="368.0" cy="322.7" r="1.35" fill="#111"/><circle cx="369.3" cy="302.5" r="1.35" fill="#111"/><circle cx="370.7" cy="304.3" r="1.35" fill="#111"/><circle cx="371.6" cy="313.3" r="1.35" fill="#111"/><circle cx="372.9" cy="304.3" r="1.35" fill="#111"/><circle cx="374.4" cy="252.5" r="1.35" fill="#111"/><circle cx="375.3" cy="307.9" r="1.35" fill="#111"/><circle cx="376.2" cy="307.0" r="1.35" fill="#111"/><circle cx="377.6" cy="311.9" r="1.35" fill="#111"/><circle cx="378.9" cy="303.4" r="1.35" fill="#111"/><circle cx="380.1" cy="305.2" r="1.35" fill="#111"/><circle cx="381.2" cy="314.8" r="1.35" fill="#111"/><circle cx="382.5" cy="304.3" r="1.35" fill="#111"/><circle cx="383.4" cy="313.7" r="1.35" fill="#111"/><circle cx="384.8" cy="306.1" r="1.35" fill="#111"/><circle cx="386.1" cy="308.8" r="1.35" fill="#111"/><circle cx="387.5" cy="301.1" r="1.35" fill="#111"/><circle cx="388.8" cy="308.8" r="1.35" fill="#111"/><circle cx="390.2" cy="309.4" r="1.35" fill="#111"/><circle cx="391.5" cy="309.4" r="1.35" fill="#111"/><circle cx="392.8" cy="309.4" r="1.35" fill="#111"/><circle cx="394.2" cy="312.6" r="1.35" fill="#111"/><circle cx="395.5" cy="302.5" r="1.35" fill="#111"/><circle cx="396.6" cy="303.4" r="1.35" fill="#111"/><circle cx="397.8" cy="286.6" r="1.35" fill="#111"/><circle cx="399.3" cy="270.9" r="1.35" fill="#111"/><circle cx="400.5" cy="293.5" r="1.35" fill="#111"/><circle cx="401.8" cy="298.0" r="1.35" fill="#111"/><circle cx="402.9" cy="311.2" r="1.35" fill="#111"/><circle cx="404.1" cy="307.9" r="1.35" fill="#111"/><circle cx="405.4" cy="301.1" r="1.35" fill="#111"/><circle cx="406.5" cy="308.3" r="1.35" fill="#111"/><circle cx="407.8" cy="306.7" r="1.35" fill="#111"/><circle cx="409.0" cy="301.6" r="1.35" fill="#111"/><circle cx="410.5" cy="303.0" r="1.35" fill="#111"/><circle cx="411.6" cy="298.5" r="1.35" fill="#111"/><circle cx="412.8" cy="313.3" r="1.35" fill="#111"/><circle cx="414.1" cy="307.0" r="1.35" fill="#111"/><circle cx="415.5" cy="304.0" r="1.35" fill="#111"/><circle cx="416.8" cy="307.0" r="1.35" fill="#111"/><circle cx="417.7" cy="303.4" r="1.35" fill="#111"/><circle cx="419.1" cy="285.9" r="1.35" fill="#111"/><circle cx="419.9" cy="307.9" r="1.35" fill="#111"/><circle cx="421.3" cy="295.6" r="1.35" fill="#111"/><circle cx="422.4" cy="305.0" r="1.35" fill="#111"/><circle cx="423.5" cy="300.7" r="1.35" fill="#111"/><circle cx="424.9" cy="299.3" r="1.35" fill="#111"/><circle cx="426.4" cy="299.8" r="1.35" fill="#111"/><circle cx="427.6" cy="304.0" r="1.35" fill="#111"/><circle cx="429.4" cy="302.5" r="1.35" fill="#111"/><circle cx="430.3" cy="307.0" r="1.35" fill="#111"/><circle cx="431.0" cy="350.8" r="1.35" fill="#111"/><circle cx="433.1" cy="307.0" r="1.35" fill="#111"/><circle cx="434.4" cy="307.9" r="1.35" fill="#111"/><circle cx="436.2" cy="295.6" r="1.35" fill="#111"/><text x="289.8" y="375.5" font-family="Liberation Sans" fill="#333" font-size="7.4" text-anchor="middle">0</text><text x="314.2" y="375.5" font-family="Liberation Sans" fill="#333" font-size="7.4" text-anchor="middle" textLength="7" lengthAdjust="spacingAndGlyphs">20</text><text x="338.7" y="375.5" font-family="Liberation Sans" fill="#333" font-size="7.4" text-anchor="middle" textLength="7" lengthAdjust="spacingAndGlyphs">40</text><text x="363.1" y="375.5" font-family="Liberation Sans" fill="#333" font-size="7.4" text-anchor="middle" textLength="7" lengthAdjust="spacingAndGlyphs">60</text><text x="387.6" y="375.5" font-family="Liberation Sans" fill="#333" font-size="7.4" text-anchor="middle" textLength="7" lengthAdjust="spacingAndGlyphs">80</text><text x="412.1" y="375.5" font-family="Liberation Sans" fill="#333" font-size="7.4" text-anchor="middle" textLength="11.3" lengthAdjust="spacingAndGlyphs">100</text><text x="436.5" y="375.5" font-family="Liberation Sans" fill="#333" font-size="7.4" text-anchor="middle" textLength="11.3" lengthAdjust="spacingAndGlyphs">120</text><text x="318.1" y="385.3" font-family="Liberation Sans" fill="#333" font-size="8.4" textLength="90.6" lengthAdjust="spacingAndGlyphs">Te layer rotation (degree)</text><text transform="translate(281.6,300.7) rotate(-90)" font-family="Liberation Sans" fill="#333" font-size="6.6" text-anchor="middle" textLength="47.4" lengthAdjust="spacingAndGlyphs">Intensity (a.u.)</text><text x="387" y="251.8" font-family="Liberation Sans" fill="#222" font-size="8.2" textLength="47.5" lengthAdjust="spacingAndGlyphs">cut-off = 0.6</text><text x="292" y="330.6" font-family="Liberation Sans" fill="#444" font-size="5.8">4<tspan font-size="3.6" dy="-3">o</tspan></text><text x="364.6" y="330.6" font-family="Liberation Sans" fill="#444" font-size="5.8">64<tspan font-size="3.6" dy="-3">o</tspan></text><text x="355" y="357.7" font-family="Liberation Sans" fill="#444" font-size="5.8">56<tspan font-size="3.6" dy="-3">o</tspan></text><text x="424.3" y="357.7" font-family="Liberation Sans" fill="#444" font-size="5.8">116<tspan font-size="3.6" dy="-3">o</tspan></text></g><g><rect x="458.6" y="239.2" width="139.8" height="40.4" fill="none" stroke="#8a8a8a" stroke-width="1"/><g stroke="#999" stroke-width="0.6"><line x1="457.0" y1="241.7" x2="458.6" y2="241.7"/><line x1="457.0" y1="246.6" x2="458.6" y2="246.6"/><line x1="457.0" y1="251.5" x2="458.6" y2="251.5"/><line x1="457.0" y1="256.4" x2="458.6" y2="256.4"/><line x1="457.0" y1="261.3" x2="458.6" y2="261.3"/><line x1="457.0" y1="266.2" x2="458.6" y2="266.2"/><line x1="457.0" y1="271.1" x2="458.6" y2="271.1"/><line x1="457.0" y1="276.0" x2="458.6" y2="276.0"/><line x1="458.6" y1="279.6" x2="458.6" y2="277.8"/><line x1="470.2" y1="279.6" x2="470.2" y2="278.40000000000003"/><line x1="481.8" y1="279.6" x2="481.8" y2="277.8"/><line x1="493.4" y1="279.6" x2="493.4" y2="278.40000000000003"/><line x1="505.0" y1="279.6" x2="505.0" y2="277.8"/><line x1="516.6" y1="279.6" x2="516.6" y2="278.40000000000003"/><line x1="528.2" y1="279.6" x2="528.2" y2="277.8"/><line x1="539.8" y1="279.6" x2="539.8" y2="278.40000000000003"/><line x1="551.4" y1="279.6" x2="551.4" y2="277.8"/><line x1="563.0" y1="279.6" x2="563.0" y2="278.40000000000003"/><line x1="574.6" y1="279.6" x2="574.6" y2="277.8"/><line x1="586.2" y1="279.6" x2="586.2" y2="278.40000000000003"/><line x1="597.8" y1="279.6" x2="597.8" y2="277.8"/></g><path d="M459.2,258.2 L460.1,258.0 L462.6,259.6 L465.0,254.2 L466.2,257.5 L468.3,260.1 L470.4,258.6 L472.4,259.4 L474.5,259.4 L476.9,255.5 L478.6,257.0 L481.2,260.1 L483.3,274.0 L484.8,261.6 L486.4,248.2 L487.9,253.4 L489.4,258.6 L491.2,263.2 L493.1,257.0 L494.6,253.9 L495.9,257.5 L497.4,261.1 L499.2,257.3 L500.8,260.1 L502.8,261.6 L504.4,259.1 L506.5,260.1 L508.5,261.1 L510.6,259.8 L512.6,260.4 L514.7,258.6 L517.1,259.1 L519.1,261.1 L521.2,259.6 L523.2,260.6 L525.2,259.2 L526.6,260.6 L527.8,256.8 L529.1,264.5 L530.2,256.2 L531.3,266.2 L532.5,259.1 L534.1,260.6 L536.1,257.7 L538.2,260.6 L540.3,261.1 L542.3,257.5 L544.4,259.6 L545.9,261.1 L547.5,257.0 L549.5,260.6 L551.2,258.5 L552.6,255.5 L553.7,259.1 L554.7,255.5 L555.7,259.1 L557.3,260.1 L558.8,256.5 L560.4,256.5 L561.9,259.1 L563.3,258.0 L564.7,258.0 L565.8,262.4 L567.1,255.9 L568.5,265.6 L569.9,252.6 L571.2,264.0 L572.3,270.5 L573.2,254.2 L573.9,242.3 L574.7,266.7 L575.6,263.4 L576.6,258.5 L577.7,255.9 L578.8,259.6 L580.4,258.0 L582.1,261.3 L583.7,259.1 L585.3,257.5 L587.5,258.0 L589.6,259.1 L591.8,258.0 L594.0,259.6 L595.6,258.0 L597.2,260.7 L598.3,259.6" fill="none" stroke="#2a2a2a" stroke-width="0.85" stroke-linejoin="round"/><text x="596" y="246.0" font-family="Liberation Sans" fill="#333" font-size="6.9" text-anchor="end">0.8</text><text transform="translate(455.3,259.4) rotate(-90)" font-family="Liberation Sans" fill="#2a2a2a" font-size="6.8" text-anchor="middle" textLength="35" lengthAdjust="spacingAndGlyphs">Intensity(a.u.)</text><text x="486.3" y="273.9" font-family="Liberation Serif" fill="#333" font-size="5">56.1<tspan font-size="3.2" dy="-2.2">o</tspan></text><text x="573.3" y="275.9" font-family="Liberation Serif" fill="#333" font-size="5">63.8<tspan font-size="3.2" dy="-2.2">o</tspan></text><rect x="458.6" y="282.9" width="139.8" height="39.7" fill="none" stroke="#8a8a8a" stroke-width="1"/><line x1="458.6" y1="283.3" x2="598.4" y2="283.3" stroke="#9a9a9a" stroke-width="1.2"/><g stroke="#999" stroke-width="0.6"><line x1="457.0" y1="285.4" x2="458.6" y2="285.4"/><line x1="457.0" y1="290.3" x2="458.6" y2="290.3"/><line x1="457.0" y1="295.2" x2="458.6" y2="295.2"/><line x1="457.0" y1="300.1" x2="458.6" y2="300.1"/><line x1="457.0" y1="305.0" x2="458.6" y2="305.0"/><line x1="457.0" y1="309.9" x2="458.6" y2="309.9"/><line x1="457.0" y1="314.8" x2="458.6" y2="314.8"/><line x1="457.0" y1="319.7" x2="458.6" y2="319.7"/><line x1="458.6" y1="322.6" x2="458.6" y2="320.8"/><line x1="470.2" y1="322.6" x2="470.2" y2="321.40000000000003"/><line x1="481.8" y1="322.6" x2="481.8" y2="320.8"/><line x1="493.4" y1="322.6" x2="493.4" y2="321.40000000000003"/><line x1="505.0" y1="322.6" x2="505.0" y2="320.8"/><line x1="516.6" y1="322.6" x2="516.6" y2="321.40000000000003"/><line x1="528.2" y1="322.6" x2="528.2" y2="320.8"/><line x1="539.8" y1="322.6" x2="539.8" y2="321.40000000000003"/><line x1="551.4" y1="322.6" x2="551.4" y2="320.8"/><line x1="563.0" y1="322.6" x2="563.0" y2="321.40000000000003"/><line x1="574.6" y1="322.6" x2="574.6" y2="320.8"/><line x1="586.2" y1="322.6" x2="586.2" y2="321.40000000000003"/><line x1="597.8" y1="322.6" x2="597.8" y2="320.8"/></g><path d="M458.8,305.0 L460.1,305.2 L462.6,304.4 L464.8,304.2 L467.3,302.6 L469.3,304.1 L471.2,303.8 L473.5,305.9 L476.4,302.1 L478.6,304.1 L480.2,304.6 L482.5,316.5 L483.8,305.0 L485.0,293.8 L486.4,296.4 L487.9,302.6 L489.4,304.1 L491.5,306.5 L494.1,302.4 L495.6,304.9 L497.1,304.2 L498.7,305.2 L500.5,304.1 L503.4,306.2 L505.4,304.1 L508.5,303.4 L511.1,305.2 L513.5,304.4 L515.7,304.1 L517.8,305.2 L521.2,304.9 L524.3,305.2 L526.2,306.5 L527.5,301.0 L528.7,308.0 L529.9,300.5 L531.1,307.5 L532.2,303.5 L533.0,304.6 L536.0,304.1 L540.0,304.6 L544.0,304.2 L548.0,304.6 L552.1,303.1 L553.2,304.6 L557.0,304.3 L560.9,303.6 L562.9,305.7 L564.4,301.3 L565.8,306.4 L567.2,304.8 L568.9,307.4 L570.4,298.2 L571.4,304.5 L572.3,317.2 L573.2,305.0 L573.9,287.4 L574.7,306.9 L575.6,304.3 L576.8,304.5 L578.3,302.6 L579.9,305.3 L581.5,308.0 L582.6,302.6 L584.2,306.3 L586.4,304.2 L588.6,304.8 L590.8,304.0 L593.0,304.8 L595.2,304.1 L597.2,304.2 L598.2,304.5" fill="none" stroke="#2a2a2a" stroke-width="0.85" stroke-linejoin="round"/><text x="596" y="290.0" font-family="Liberation Sans" fill="#333" font-size="6.9" text-anchor="end">0.5</text><text transform="translate(455.3,302.8) rotate(-90)" font-family="Liberation Sans" fill="#2a2a2a" font-size="6.8" text-anchor="middle" textLength="35" lengthAdjust="spacingAndGlyphs">Intensity(a.u.)</text><text x="485.6" y="319.9" font-family="Liberation Serif" fill="#333" font-size="5">56.1<tspan font-size="3.2" dy="-2.2">o</tspan></text><text x="575.4" y="319.8" font-family="Liberation Serif" fill="#333" font-size="5">63.8<tspan font-size="3.2" dy="-2.2">o</tspan></text><rect x="458.6" y="326.9" width="139.8" height="40.1" fill="none" stroke="#8a8a8a" stroke-width="1"/><line x1="458.6" y1="327.3" x2="598.4" y2="327.3" stroke="#9a9a9a" stroke-width="1.2"/><g stroke="#999" stroke-width="0.6"><line x1="457.0" y1="329.4" x2="458.6" y2="329.4"/><line x1="457.0" y1="334.3" x2="458.6" y2="334.3"/><line x1="457.0" y1="339.2" x2="458.6" y2="339.2"/><line x1="457.0" y1="344.1" x2="458.6" y2="344.1"/><line x1="457.0" y1="349.0" x2="458.6" y2="349.0"/><line x1="457.0" y1="353.9" x2="458.6" y2="353.9"/><line x1="457.0" y1="358.8" x2="458.6" y2="358.8"/><line x1="457.0" y1="363.7" x2="458.6" y2="363.7"/><line x1="458.6" y1="367.0" x2="458.6" y2="365.2"/><line x1="470.2" y1="367.0" x2="470.2" y2="365.8"/><line x1="481.8" y1="367.0" x2="481.8" y2="365.2"/><line x1="493.4" y1="367.0" x2="493.4" y2="365.8"/><line x1="505.0" y1="367.0" x2="505.0" y2="365.2"/><line x1="516.6" y1="367.0" x2="516.6" y2="365.8"/><line x1="528.2" y1="367.0" x2="528.2" y2="365.2"/><line x1="539.8" y1="367.0" x2="539.8" y2="365.8"/><line x1="551.4" y1="367.0" x2="551.4" y2="365.2"/><line x1="563.0" y1="367.0" x2="563.0" y2="365.8"/><line x1="574.6" y1="367.0" x2="574.6" y2="365.2"/><line x1="586.2" y1="367.0" x2="586.2" y2="365.8"/><line x1="597.8" y1="367.0" x2="597.8" y2="365.2"/></g><path d="M458.8,347.2 L459.6,347.1 L462.0,346.6 L464.5,346.0 L467.2,344.6 L468.8,346.6 L471.0,346.1 L473.2,347.7 L475.9,344.2 L477.5,347.1 L479.1,346.0 L480.5,348.8 L482.4,358.0 L483.5,347.0 L484.5,334.1 L486.0,335.8 L487.3,344.4 L488.9,346.6 L491.6,349.3 L493.8,344.4 L495.4,346.6 L497.5,346.0 L500.0,346.8 L503.0,348.8 L505.1,346.4 L508.0,346.6 L511.1,347.7 L513.3,346.6 L515.0,346.6 L519.5,346.9 L523.7,347.1 L525.3,343.3 L526.4,352.5 L527.5,340.1 L528.2,339.0 L528.9,353.6 L529.8,347.0 L530.7,342.8 L531.5,349.3 L533.0,346.5 L535.0,345.5 L537.0,346.9 L539.4,347.7 L541.5,346.0 L544.0,346.5 L546.4,345.7 L548.5,346.6 L550.8,347.7 L552.4,345.3 L554.2,346.6 L557.0,346.2 L559.4,346.0 L560.8,346.1 L562.2,348.3 L563.9,343.8 L565.5,348.8 L566.8,346.5 L568.3,350.0 L569.6,339.4 L570.8,348.5 L571.9,361.6 L572.7,347.0 L573.4,331.1 L574.4,351.1 L575.8,347.0 L577.2,345.5 L579.0,347.0 L581.0,350.0 L582.7,345.0 L584.8,347.0 L587.2,346.1 L589.9,345.5 L592.5,346.8 L595.0,346.4 L597.1,346.1" fill="none" stroke="#2a2a2a" stroke-width="0.85" stroke-linejoin="round"/><text x="596" y="334.0" font-family="Liberation Sans" fill="#333" font-size="6.9" text-anchor="end">0.1</text><text transform="translate(455.3,346.9) rotate(-90)" font-family="Liberation Sans" fill="#2a2a2a" font-size="6.8" text-anchor="middle" textLength="35" lengthAdjust="spacingAndGlyphs">Intensity(a.u.)</text><text x="484.4" y="362.2" font-family="Liberation Serif" fill="#333" font-size="5">56.1<tspan font-size="3.2" dy="-2.2">o</tspan></text><text x="574.7" y="364.2" font-family="Liberation Serif" fill="#333" font-size="5">63.8<tspan font-size="3.2" dy="-2.2">o</tspan></text><text x="458.6" y="373.9" font-family="Liberation Sans" fill="#333" font-size="7.2" text-anchor="middle">54</text><text x="481.8" y="373.9" font-family="Liberation Sans" fill="#333" font-size="7.2" text-anchor="middle">56</text><text x="505.0" y="373.9" font-family="Liberation Sans" fill="#333" font-size="7.2" text-anchor="middle">58</text><text x="528.2" y="373.9" font-family="Liberation Sans" fill="#333" font-size="7.2" text-anchor="middle">60</text><text x="551.4" y="373.9" font-family="Liberation Sans" fill="#333" font-size="7.2" text-anchor="middle">62</text><text x="574.6" y="373.9" font-family="Liberation Sans" fill="#333" font-size="7.2" text-anchor="middle">64</text><text x="597.8" y="373.9" font-family="Liberation Sans" fill="#333" font-size="7.2" text-anchor="middle">66</text><text x="483.3" y="383.8" font-family="Liberation Sans" fill="#333" font-size="7.4" textLength="81.8" lengthAdjust="spacingAndGlyphs">Te layer rotation (degree)</text></g>
</svg></body></html>
